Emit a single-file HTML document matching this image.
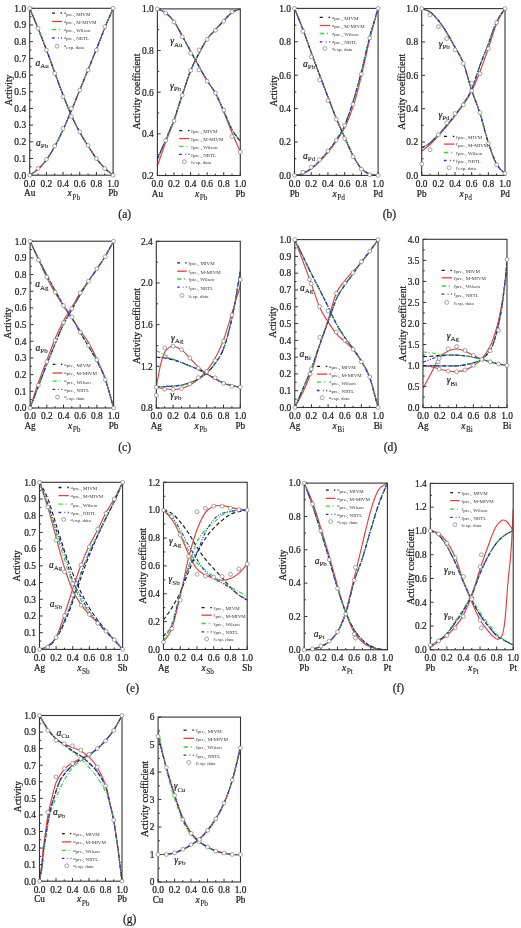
<!DOCTYPE html>
<html><head><meta charset="utf-8"><title>Activity plots</title>
<style>html,body{margin:0;padding:0;background:#fff;}svg{display:block;will-change:transform;}.t{stroke:#1a1a1a;stroke-width:0.22px;}.t tspan+tspan{stroke-width:0.08px;}</style>
</head><body>
<svg width="521" height="928" viewBox="0 0 521 928" font-family='"Liberation Serif", serif' fill="#222222">
<rect width="521" height="928" fill="#fff"/>
<clipPath id="c140049246937280"><rect x="29.70" y="7.80" width="83.40" height="167.90"/></clipPath>
<g clip-path="url(#c140049246937280)" fill="none" stroke-width="1.15">
<path d="M29.70,8.30 C31.09,11.64 35.26,21.43 38.04,28.33 C40.82,35.23 43.60,42.32 46.38,49.69 C49.16,57.06 51.94,64.99 54.72,72.56 C57.50,80.12 60.28,87.94 63.06,95.09 C65.84,102.24 68.62,109.27 71.40,115.45 C74.18,121.63 76.96,127.05 79.74,132.14 C82.52,137.23 85.30,141.60 88.08,145.99 C90.86,150.39 93.64,154.81 96.42,158.51 C99.20,162.21 101.98,165.41 104.76,168.19 C107.54,170.97 111.71,174.03 113.10,175.20" stroke="#1a1a1a" stroke-dasharray="4,2.4"/>
<path d="M29.70,175.20 C31.09,174.20 35.26,171.75 38.04,169.19 C40.82,166.63 43.60,163.63 46.38,159.85 C49.16,156.06 51.94,151.50 54.72,146.49 C57.50,141.49 60.28,135.81 63.06,129.80 C65.84,123.79 68.62,117.06 71.40,110.44 C74.18,103.82 76.96,96.87 79.74,90.08 C82.52,83.29 85.30,76.53 88.08,69.72 C90.86,62.90 93.64,56.14 96.42,49.19 C99.20,42.24 101.98,34.81 104.76,27.99 C107.54,21.18 111.71,11.58 113.10,8.30" stroke="#1a1a1a" stroke-dasharray="4,2.4"/>
<path d="M29.70,8.30 C31.09,11.64 35.26,21.43 38.04,28.33 C40.82,35.23 43.60,42.32 46.38,49.69 C49.16,57.06 51.94,64.99 54.72,72.56 C57.50,80.12 60.28,87.94 63.06,95.09 C65.84,102.24 68.62,109.27 71.40,115.45 C74.18,121.63 76.96,127.05 79.74,132.14 C82.52,137.23 85.30,141.60 88.08,145.99 C90.86,150.39 93.64,154.81 96.42,158.51 C99.20,162.21 101.98,165.41 104.76,168.19 C107.54,170.97 111.71,174.03 113.10,175.20" stroke="#e83c3c"/>
<path d="M29.70,175.20 C31.09,174.20 35.26,171.75 38.04,169.19 C40.82,166.63 43.60,163.63 46.38,159.85 C49.16,156.06 51.94,151.50 54.72,146.49 C57.50,141.49 60.28,135.81 63.06,129.80 C65.84,123.79 68.62,117.06 71.40,110.44 C74.18,103.82 76.96,96.87 79.74,90.08 C82.52,83.29 85.30,76.53 88.08,69.72 C90.86,62.90 93.64,56.14 96.42,49.19 C99.20,42.24 101.98,34.81 104.76,27.99 C107.54,21.18 111.71,11.58 113.10,8.30" stroke="#e83c3c"/>
<path d="M29.70,8.30 C31.09,11.64 35.26,21.43 38.04,28.33 C40.82,35.23 43.60,42.32 46.38,49.69 C49.16,57.06 51.94,64.99 54.72,72.56 C57.50,80.12 60.28,87.94 63.06,95.09 C65.84,102.24 68.62,109.27 71.40,115.45 C74.18,121.63 76.96,127.05 79.74,132.14 C82.52,137.23 85.30,141.60 88.08,145.99 C90.86,150.39 93.64,154.81 96.42,158.51 C99.20,162.21 101.98,165.41 104.76,168.19 C107.54,170.97 111.71,174.03 113.10,175.20" stroke="#2ed82e" stroke-dasharray="4.2,1.8,1,1.8"/>
<path d="M29.70,175.20 C31.09,174.20 35.26,171.75 38.04,169.19 C40.82,166.63 43.60,163.63 46.38,159.85 C49.16,156.06 51.94,151.50 54.72,146.49 C57.50,141.49 60.28,135.81 63.06,129.80 C65.84,123.79 68.62,117.06 71.40,110.44 C74.18,103.82 76.96,96.87 79.74,90.08 C82.52,83.29 85.30,76.53 88.08,69.72 C90.86,62.90 93.64,56.14 96.42,49.19 C99.20,42.24 101.98,34.81 104.76,27.99 C107.54,21.18 111.71,11.58 113.10,8.30" stroke="#2ed82e" stroke-dasharray="4.2,1.8,1,1.8"/>
<path d="M29.70,8.30 C31.09,11.64 35.26,21.43 38.04,28.33 C40.82,35.23 43.60,42.32 46.38,49.69 C49.16,57.06 51.94,64.99 54.72,72.56 C57.50,80.12 60.28,87.94 63.06,95.09 C65.84,102.24 68.62,109.27 71.40,115.45 C74.18,121.63 76.96,127.05 79.74,132.14 C82.52,137.23 85.30,141.60 88.08,145.99 C90.86,150.39 93.64,154.81 96.42,158.51 C99.20,162.21 101.98,165.41 104.76,168.19 C107.54,170.97 111.71,174.03 113.10,175.20" stroke="#2a2ae0" stroke-dasharray="3.4,1.5,1,1.5,1,1.5"/>
<path d="M29.70,175.20 C31.09,174.20 35.26,171.75 38.04,169.19 C40.82,166.63 43.60,163.63 46.38,159.85 C49.16,156.06 51.94,151.50 54.72,146.49 C57.50,141.49 60.28,135.81 63.06,129.80 C65.84,123.79 68.62,117.06 71.40,110.44 C74.18,103.82 76.96,96.87 79.74,90.08 C82.52,83.29 85.30,76.53 88.08,69.72 C90.86,62.90 93.64,56.14 96.42,49.19 C99.20,42.24 101.98,34.81 104.76,27.99 C107.54,21.18 111.71,11.58 113.10,8.30" stroke="#2a2ae0" stroke-dasharray="3.4,1.5,1,1.5,1,1.5"/>
</g>
<rect x="29.70" y="8.30" width="83.40" height="166.90" fill="none" stroke="#333333" stroke-width="1.1"/>
<path d="M29.70,175.20h3.3M29.70,158.51h3.3M29.70,141.82h3.3M29.70,125.13h3.3M29.70,108.44h3.3M29.70,91.75h3.3M29.70,75.06h3.3M29.70,58.37h3.3M29.70,41.68h3.3M29.70,24.99h3.3M29.70,8.30h3.3M29.70,166.85h1.8M29.70,150.16h1.8M29.70,133.47h1.8M29.70,116.78h1.8M29.70,100.09h1.8M29.70,83.40h1.8M29.70,66.71h1.8M29.70,50.02h1.8M29.70,33.33h1.8M29.70,16.65h1.8M29.70,175.20v-3.3M38.04,175.20v-1.8M46.38,175.20v-3.3M54.72,175.20v-1.8M63.06,175.20v-3.3M71.40,175.20v-1.8M79.74,175.20v-3.3M88.08,175.20v-1.8M96.42,175.20v-3.3M104.76,175.20v-1.8M113.10,175.20v-3.3" stroke="#333333" stroke-width="1" fill="none"/>
<circle cx="29.70" cy="8.30" r="1.95" fill="#fff" stroke="#6a6a6a" stroke-width="0.6"/>
<circle cx="38.04" cy="28.33" r="1.95" fill="#fff" stroke="#6a6a6a" stroke-width="0.6"/>
<circle cx="46.38" cy="50.03" r="1.95" fill="#fff" stroke="#6a6a6a" stroke-width="0.6"/>
<circle cx="54.72" cy="73.39" r="1.95" fill="#fff" stroke="#6a6a6a" stroke-width="0.6"/>
<circle cx="63.06" cy="96.76" r="1.95" fill="#fff" stroke="#6a6a6a" stroke-width="0.6"/>
<circle cx="71.40" cy="116.28" r="1.95" fill="#fff" stroke="#6a6a6a" stroke-width="0.6"/>
<circle cx="79.74" cy="131.81" r="1.95" fill="#fff" stroke="#6a6a6a" stroke-width="0.6"/>
<circle cx="88.08" cy="145.49" r="1.95" fill="#fff" stroke="#6a6a6a" stroke-width="0.6"/>
<circle cx="96.42" cy="158.51" r="1.95" fill="#fff" stroke="#6a6a6a" stroke-width="0.6"/>
<circle cx="104.76" cy="168.52" r="1.95" fill="#fff" stroke="#6a6a6a" stroke-width="0.6"/>
<circle cx="113.10" cy="175.20" r="1.95" fill="#fff" stroke="#6a6a6a" stroke-width="0.6"/>
<circle cx="29.70" cy="175.20" r="1.95" fill="#fff" stroke="#6a6a6a" stroke-width="0.6"/>
<circle cx="38.04" cy="168.52" r="1.95" fill="#fff" stroke="#6a6a6a" stroke-width="0.6"/>
<circle cx="46.38" cy="159.34" r="1.95" fill="#fff" stroke="#6a6a6a" stroke-width="0.6"/>
<circle cx="54.72" cy="145.99" r="1.95" fill="#fff" stroke="#6a6a6a" stroke-width="0.6"/>
<circle cx="63.06" cy="128.47" r="1.95" fill="#fff" stroke="#6a6a6a" stroke-width="0.6"/>
<circle cx="71.40" cy="108.44" r="1.95" fill="#fff" stroke="#6a6a6a" stroke-width="0.6"/>
<circle cx="79.74" cy="90.08" r="1.95" fill="#fff" stroke="#6a6a6a" stroke-width="0.6"/>
<circle cx="88.08" cy="70.05" r="1.95" fill="#fff" stroke="#6a6a6a" stroke-width="0.6"/>
<circle cx="96.42" cy="50.03" r="1.95" fill="#fff" stroke="#6a6a6a" stroke-width="0.6"/>
<circle cx="104.76" cy="26.66" r="1.95" fill="#fff" stroke="#6a6a6a" stroke-width="0.6"/>
<circle cx="113.10" cy="8.30" r="1.95" fill="#fff" stroke="#6a6a6a" stroke-width="0.6"/>
<text class="t" transform="translate(26.10,178.50) scale(1,1.1)" text-anchor="end" font-size="9.4">0.0</text>
<text class="t" transform="translate(26.10,161.81) scale(1,1.1)" text-anchor="end" font-size="9.4">0.1</text>
<text class="t" transform="translate(26.10,145.12) scale(1,1.1)" text-anchor="end" font-size="9.4">0.2</text>
<text class="t" transform="translate(26.10,128.43) scale(1,1.1)" text-anchor="end" font-size="9.4">0.3</text>
<text class="t" transform="translate(26.10,111.74) scale(1,1.1)" text-anchor="end" font-size="9.4">0.4</text>
<text class="t" transform="translate(26.10,95.05) scale(1,1.1)" text-anchor="end" font-size="9.4">0.5</text>
<text class="t" transform="translate(26.10,78.36) scale(1,1.1)" text-anchor="end" font-size="9.4">0.6</text>
<text class="t" transform="translate(26.10,61.67) scale(1,1.1)" text-anchor="end" font-size="9.4">0.7</text>
<text class="t" transform="translate(26.10,44.98) scale(1,1.1)" text-anchor="end" font-size="9.4">0.8</text>
<text class="t" transform="translate(26.10,28.29) scale(1,1.1)" text-anchor="end" font-size="9.4">0.9</text>
<text class="t" transform="translate(26.10,11.60) scale(1,1.1)" text-anchor="end" font-size="9.4">1.0</text>
<text class="t" transform="translate(29.70,186.60) scale(1,1.1)" text-anchor="middle" font-size="9.4">0.0</text>
<text class="t" transform="translate(46.38,186.60) scale(1,1.1)" text-anchor="middle" font-size="9.4">0.2</text>
<text class="t" transform="translate(63.06,186.60) scale(1,1.1)" text-anchor="middle" font-size="9.4">0.4</text>
<text class="t" transform="translate(79.74,186.60) scale(1,1.1)" text-anchor="middle" font-size="9.4">0.6</text>
<text class="t" transform="translate(96.42,186.60) scale(1,1.1)" text-anchor="middle" font-size="9.4">0.8</text>
<text class="t" transform="translate(113.10,186.60) scale(1,1.1)" text-anchor="middle" font-size="9.4">1.0</text>
<text class="t" transform="translate(29.70,196.30) scale(1,1.1)" text-anchor="middle" font-size="9.2">Au</text>
<text class="t" transform="translate(113.10,196.30) scale(1,1.1)" text-anchor="middle" font-size="9.2">Pb</text>
<text class="t" transform="translate(67.60,196.40) scale(1,1.1)" font-size="9.5"><tspan font-style="italic">x</tspan><tspan font-size="7.4" dx="0.5" dy="2.9">Pb</tspan></text>
<text class="t" transform="translate(12.00,90.20) rotate(-90)" text-anchor="middle" font-size="9.5">Activity</text>
<text class="t" x="35.50" y="65.60" font-size="9.5"><tspan font-style="italic">a</tspan><tspan font-size="7" dy="2.4">Au</tspan></text>
<text class="t" x="36.00" y="145.90" font-size="9.5"><tspan font-style="italic">a</tspan><tspan font-size="7" dy="2.4">Pb</tspan></text>
<path d="M52.10,13.20H55.07M60.52,13.20H62.00" stroke="#1a1a1a" stroke-width="1.3"/>
<text x="63.80" y="14.40" font-size="4.6" fill="#3a3a3a"><tspan font-style="italic">a</tspan><tspan font-size="5.0" dy="1.2">pre., MIVM</tspan></text>
<path d="M52.10,21.50H62.00" stroke="#e83c3c" stroke-width="1.3"/>
<text x="63.80" y="22.70" font-size="4.6" fill="#3a3a3a"><tspan font-style="italic">a</tspan><tspan font-size="5.0" dy="1.2">pre., M-MIVM</tspan></text>
<path d="M52.10,29.70H56.26M59.03,29.70H60.02" stroke="#2ed82e" stroke-width="1.3"/>
<text x="63.80" y="30.90" font-size="4.6" fill="#3a3a3a"><tspan font-style="italic">a</tspan><tspan font-size="5.0" dy="1.2">pre., Wilson</tspan></text>
<path d="M52.10,38.00H54.67M57.84,38.00H58.63M61.01,38.00H62.00" stroke="#2a2ae0" stroke-width="1.3"/>
<text x="63.80" y="39.20" font-size="4.6" fill="#3a3a3a"><tspan font-style="italic">a</tspan><tspan font-size="5.0" dy="1.2">pre., NRTL</tspan></text>
<circle cx="57.05" cy="46.20" r="1.95" fill="#fff" stroke="#6a6a6a" stroke-width="0.6"/>
<text x="63.80" y="47.40" font-size="4.6" fill="#3a3a3a"><tspan font-style="italic">a</tspan><tspan font-size="5.0" dy="1.2">exp. data</tspan></text>
<clipPath id="c140049246937328"><rect x="157.40" y="8.40" width="82.90" height="167.60"/></clipPath>
<g clip-path="url(#c140049246937328)" fill="none" stroke-width="1.15">
<path d="M157.40,8.90 C158.78,9.59 162.93,10.98 165.69,13.06 C168.45,15.15 171.22,17.58 173.98,21.40 C176.74,25.21 179.51,31.01 182.27,35.97 C185.03,40.94 187.80,46.14 190.56,51.17 C193.32,56.21 196.09,61.24 198.85,66.17 C201.61,71.10 204.38,76.23 207.14,80.75 C209.90,85.26 212.67,88.21 215.43,93.24 C218.19,98.27 220.96,104.87 223.72,110.94 C226.48,117.02 229.25,124.65 232.01,129.69 C234.77,134.72 238.92,139.23 240.30,141.14" stroke="#1a1a1a" stroke-dasharray="4,2.4"/>
<path d="M157.40,159.05 C158.78,155.82 162.93,146.24 165.69,139.68 C168.45,133.12 171.22,127.19 173.98,119.69 C176.74,112.19 179.51,102.86 182.27,94.70 C185.03,86.54 187.80,77.59 190.56,70.75 C193.32,63.91 196.09,58.95 198.85,53.67 C201.61,48.40 204.38,43.09 207.14,39.10 C209.90,35.10 212.67,32.78 215.43,29.73 C218.19,26.67 220.96,23.65 223.72,20.77 C226.48,17.89 229.25,14.42 232.01,12.44 C234.77,10.46 238.92,9.49 240.30,8.90" stroke="#1a1a1a" stroke-dasharray="4,2.4"/>
<path d="M157.40,8.90 C158.78,9.59 162.93,10.98 165.69,13.06 C168.45,15.15 171.22,17.58 173.98,21.40 C176.74,25.21 179.51,31.01 182.27,35.97 C185.03,40.94 187.80,46.14 190.56,51.17 C193.32,56.21 196.09,61.24 198.85,66.17 C201.61,71.10 204.38,76.23 207.14,80.75 C209.90,85.26 212.67,88.04 215.43,93.24 C218.19,98.45 220.96,105.39 223.72,111.98 C226.48,118.58 229.25,126.14 232.01,132.81 C234.77,139.47 238.92,148.77 240.30,151.97" stroke="#e83c3c"/>
<path d="M157.40,165.92 C158.78,161.96 162.93,149.68 165.69,142.18 C168.45,134.68 171.22,128.71 173.98,120.94 C176.74,113.16 179.51,103.79 182.27,95.53 C185.03,87.27 187.80,78.35 190.56,71.38 C193.32,64.40 196.09,59.05 198.85,53.67 C201.61,48.29 204.38,43.09 207.14,39.10 C209.90,35.10 212.67,32.78 215.43,29.73 C218.19,26.67 220.96,23.65 223.72,20.77 C226.48,17.89 229.25,14.42 232.01,12.44 C234.77,10.46 238.92,9.49 240.30,8.90" stroke="#e83c3c"/>
<path d="M157.40,8.90 C158.78,9.59 162.93,10.98 165.69,13.06 C168.45,15.15 171.22,17.58 173.98,21.40 C176.74,25.21 179.51,31.01 182.27,35.97 C185.03,40.94 187.80,46.14 190.56,51.17 C193.32,56.21 196.09,61.24 198.85,66.17 C201.61,71.10 204.38,76.23 207.14,80.75 C209.90,85.26 212.67,88.21 215.43,93.24 C218.19,98.27 220.96,104.87 223.72,110.94 C226.48,117.02 229.25,124.65 232.01,129.69 C234.77,134.72 238.92,139.23 240.30,141.14" stroke="#2ed82e" stroke-dasharray="4.2,1.8,1,1.8"/>
<path d="M157.40,159.05 C158.78,155.82 162.93,146.24 165.69,139.68 C168.45,133.12 171.22,127.19 173.98,119.69 C176.74,112.19 179.51,102.86 182.27,94.70 C185.03,86.54 187.80,77.59 190.56,70.75 C193.32,63.91 196.09,58.95 198.85,53.67 C201.61,48.40 204.38,43.09 207.14,39.10 C209.90,35.10 212.67,32.78 215.43,29.73 C218.19,26.67 220.96,23.65 223.72,20.77 C226.48,17.89 229.25,14.42 232.01,12.44 C234.77,10.46 238.92,9.49 240.30,8.90" stroke="#2ed82e" stroke-dasharray="4.2,1.8,1,1.8"/>
<path d="M157.40,8.90 C158.78,9.59 162.93,10.98 165.69,13.06 C168.45,15.15 171.22,17.58 173.98,21.40 C176.74,25.21 179.51,31.01 182.27,35.97 C185.03,40.94 187.80,46.14 190.56,51.17 C193.32,56.21 196.09,61.24 198.85,66.17 C201.61,71.10 204.38,76.23 207.14,80.75 C209.90,85.26 212.67,88.21 215.43,93.24 C218.19,98.27 220.96,104.87 223.72,110.94 C226.48,117.02 229.25,124.65 232.01,129.69 C234.77,134.72 238.92,139.23 240.30,141.14" stroke="#2a2ae0" stroke-dasharray="3.4,1.5,1,1.5,1,1.5"/>
<path d="M157.40,159.05 C158.78,155.82 162.93,146.24 165.69,139.68 C168.45,133.12 171.22,127.19 173.98,119.69 C176.74,112.19 179.51,102.86 182.27,94.70 C185.03,86.54 187.80,77.59 190.56,70.75 C193.32,63.91 196.09,58.95 198.85,53.67 C201.61,48.40 204.38,43.09 207.14,39.10 C209.90,35.10 212.67,32.78 215.43,29.73 C218.19,26.67 220.96,23.65 223.72,20.77 C226.48,17.89 229.25,14.42 232.01,12.44 C234.77,10.46 238.92,9.49 240.30,8.90" stroke="#2a2ae0" stroke-dasharray="3.4,1.5,1,1.5,1,1.5"/>
</g>
<rect x="157.40" y="8.90" width="82.90" height="166.60" fill="none" stroke="#333333" stroke-width="1.1"/>
<path d="M157.40,175.50h3.3M157.40,133.85h3.3M157.40,92.20h3.3M157.40,50.55h3.3M157.40,8.90h3.3M157.40,154.68h1.8M157.40,113.03h1.8M157.40,71.38h1.8M157.40,29.72h1.8M157.40,175.50v-3.3M165.69,175.50v-1.8M173.98,175.50v-3.3M182.27,175.50v-1.8M190.56,175.50v-3.3M198.85,175.50v-1.8M207.14,175.50v-3.3M215.43,175.50v-1.8M223.72,175.50v-3.3M232.01,175.50v-1.8M240.30,175.50v-3.3" stroke="#333333" stroke-width="1" fill="none"/>
<circle cx="157.40" cy="8.90" r="1.95" fill="#fff" stroke="#6a6a6a" stroke-width="0.6"/>
<circle cx="165.69" cy="13.06" r="1.95" fill="#fff" stroke="#6a6a6a" stroke-width="0.6"/>
<circle cx="173.98" cy="22.02" r="1.95" fill="#fff" stroke="#6a6a6a" stroke-width="0.6"/>
<circle cx="182.27" cy="36.81" r="1.95" fill="#fff" stroke="#6a6a6a" stroke-width="0.6"/>
<circle cx="190.56" cy="53.26" r="1.95" fill="#fff" stroke="#6a6a6a" stroke-width="0.6"/>
<circle cx="198.85" cy="69.92" r="1.95" fill="#fff" stroke="#6a6a6a" stroke-width="0.6"/>
<circle cx="207.14" cy="81.16" r="1.95" fill="#fff" stroke="#6a6a6a" stroke-width="0.6"/>
<circle cx="215.43" cy="93.03" r="1.95" fill="#fff" stroke="#6a6a6a" stroke-width="0.6"/>
<circle cx="223.72" cy="110.11" r="1.95" fill="#fff" stroke="#6a6a6a" stroke-width="0.6"/>
<circle cx="232.01" cy="136.56" r="1.95" fill="#fff" stroke="#6a6a6a" stroke-width="0.6"/>
<circle cx="240.30" cy="151.97" r="1.95" fill="#fff" stroke="#6a6a6a" stroke-width="0.6"/>
<circle cx="165.69" cy="140.51" r="1.95" fill="#fff" stroke="#6a6a6a" stroke-width="0.6"/>
<circle cx="173.98" cy="120.94" r="1.95" fill="#fff" stroke="#6a6a6a" stroke-width="0.6"/>
<circle cx="182.27" cy="95.32" r="1.95" fill="#fff" stroke="#6a6a6a" stroke-width="0.6"/>
<circle cx="190.56" cy="70.54" r="1.95" fill="#fff" stroke="#6a6a6a" stroke-width="0.6"/>
<circle cx="198.85" cy="49.93" r="1.95" fill="#fff" stroke="#6a6a6a" stroke-width="0.6"/>
<circle cx="207.14" cy="39.30" r="1.95" fill="#fff" stroke="#6a6a6a" stroke-width="0.6"/>
<circle cx="215.43" cy="30.35" r="1.95" fill="#fff" stroke="#6a6a6a" stroke-width="0.6"/>
<circle cx="223.72" cy="21.19" r="1.95" fill="#fff" stroke="#6a6a6a" stroke-width="0.6"/>
<circle cx="232.01" cy="11.61" r="1.95" fill="#fff" stroke="#6a6a6a" stroke-width="0.6"/>
<text class="t" transform="translate(153.80,178.80) scale(1,1.1)" text-anchor="end" font-size="9.4">0.2</text>
<text class="t" transform="translate(153.80,137.15) scale(1,1.1)" text-anchor="end" font-size="9.4">0.4</text>
<text class="t" transform="translate(153.80,95.50) scale(1,1.1)" text-anchor="end" font-size="9.4">0.6</text>
<text class="t" transform="translate(153.80,53.85) scale(1,1.1)" text-anchor="end" font-size="9.4">0.8</text>
<text class="t" transform="translate(153.80,12.20) scale(1,1.1)" text-anchor="end" font-size="9.4">1.0</text>
<text class="t" transform="translate(157.40,186.90) scale(1,1.1)" text-anchor="middle" font-size="9.4">0.0</text>
<text class="t" transform="translate(173.98,186.90) scale(1,1.1)" text-anchor="middle" font-size="9.4">0.2</text>
<text class="t" transform="translate(190.56,186.90) scale(1,1.1)" text-anchor="middle" font-size="9.4">0.4</text>
<text class="t" transform="translate(207.14,186.90) scale(1,1.1)" text-anchor="middle" font-size="9.4">0.6</text>
<text class="t" transform="translate(223.72,186.90) scale(1,1.1)" text-anchor="middle" font-size="9.4">0.8</text>
<text class="t" transform="translate(240.30,186.90) scale(1,1.1)" text-anchor="middle" font-size="9.4">1.0</text>
<text class="t" transform="translate(157.40,196.60) scale(1,1.1)" text-anchor="middle" font-size="9.2">Au</text>
<text class="t" transform="translate(240.30,196.60) scale(1,1.1)" text-anchor="middle" font-size="9.2">Pb</text>
<text class="t" transform="translate(195.05,196.70) scale(1,1.1)" font-size="9.5"><tspan font-style="italic">x</tspan><tspan font-size="7.4" dx="0.5" dy="2.9">Pb</tspan></text>
<text class="t" transform="translate(140.20,91.55) rotate(-90)" text-anchor="middle" font-size="9.75">Activity coefficient</text>
<text class="t" x="170.20" y="44.20" font-size="9.5"><tspan font-style="italic">γ</tspan><tspan font-size="7" dy="2.4">Au</tspan></text>
<text class="t" x="169.90" y="88.70" font-size="9.5"><tspan font-style="italic">γ</tspan><tspan font-size="7" dy="2.4">Pb</tspan></text>
<path d="M179.20,130.60H182.29M187.95,130.60H189.50" stroke="#1a1a1a" stroke-width="1.3"/>
<text x="191.30" y="131.80" font-size="4.6" fill="#3a3a3a"><tspan font-style="italic">γ</tspan><tspan font-size="5.0" dy="1.2">pre., MIVM</tspan></text>
<path d="M179.20,138.60H189.50" stroke="#e83c3c" stroke-width="1.3"/>
<text x="191.30" y="139.80" font-size="4.6" fill="#3a3a3a"><tspan font-style="italic">γ</tspan><tspan font-size="5.0" dy="1.2">pre., M-MIVM</tspan></text>
<path d="M179.20,146.30H183.53M186.41,146.30H187.44" stroke="#2ed82e" stroke-width="1.3"/>
<text x="191.30" y="147.50" font-size="4.6" fill="#3a3a3a"><tspan font-style="italic">γ</tspan><tspan font-size="5.0" dy="1.2">pre., Wilson</tspan></text>
<path d="M179.20,154.30H181.88M185.17,154.30H186.00M188.47,154.30H189.50" stroke="#2a2ae0" stroke-width="1.3"/>
<text x="191.30" y="155.50" font-size="4.6" fill="#3a3a3a"><tspan font-style="italic">γ</tspan><tspan font-size="5.0" dy="1.2">pre., NRTL</tspan></text>
<circle cx="184.35" cy="161.70" r="1.95" fill="#fff" stroke="#6a6a6a" stroke-width="0.6"/>
<text x="191.30" y="162.90" font-size="4.6" fill="#3a3a3a"><tspan font-style="italic">γ</tspan><tspan font-size="5.0" dy="1.2">exp. data</tspan></text>
<clipPath id="c140049246937472"><rect x="294.50" y="7.90" width="83.60" height="168.00"/></clipPath>
<g clip-path="url(#c140049246937472)" fill="none" stroke-width="1.15">
<path d="M294.50,8.40 C295.89,11.88 300.07,21.93 302.86,29.28 C305.65,36.62 308.43,44.86 311.22,52.49 C314.01,60.11 316.79,67.63 319.58,75.03 C322.37,82.44 325.15,89.67 327.94,96.91 C330.73,104.15 333.51,111.69 336.30,118.45 C339.09,125.22 341.87,131.31 344.66,137.49 C347.45,143.67 350.23,150.32 353.02,155.53 C355.81,160.73 358.59,165.63 361.38,168.72 C364.17,171.81 366.95,172.95 369.74,174.06 C372.53,175.18 376.71,175.18 378.10,175.40" stroke="#1a1a1a" stroke-dasharray="4,2.4"/>
<path d="M294.50,175.40 C295.89,175.07 300.07,174.57 302.86,173.40 C305.65,172.23 308.43,170.50 311.22,168.39 C314.01,166.27 316.79,163.57 319.58,160.70 C322.37,157.84 325.15,154.64 327.94,151.19 C330.73,147.73 333.51,144.31 336.30,140.00 C339.09,135.68 341.87,131.65 344.66,125.30 C347.45,118.95 350.23,110.83 353.02,101.92 C355.81,93.01 358.59,82.72 361.38,71.86 C364.17,61.01 366.95,47.37 369.74,36.79 C372.53,26.21 376.71,13.13 378.10,8.40" stroke="#1a1a1a" stroke-dasharray="4,2.4"/>
<path d="M294.50,8.40 C295.89,11.88 300.07,21.93 302.86,29.28 C305.65,36.62 308.43,44.86 311.22,52.49 C314.01,60.11 316.79,67.63 319.58,75.03 C322.37,82.44 325.15,89.67 327.94,96.91 C330.73,104.15 333.51,111.69 336.30,118.45 C339.09,125.22 341.87,131.31 344.66,137.49 C347.45,143.67 350.23,150.32 353.02,155.53 C355.81,160.73 358.59,165.63 361.38,168.72 C364.17,171.81 366.95,172.95 369.74,174.06 C372.53,175.18 376.71,175.18 378.10,175.40" stroke="#e83c3c"/>
<path d="M294.50,175.40 C295.89,175.12 300.07,174.79 302.86,173.73 C305.65,172.67 308.43,171.06 311.22,169.05 C314.01,167.05 316.79,164.49 319.58,161.71 C322.37,158.92 325.15,155.78 327.94,152.35 C330.73,148.93 333.51,145.26 336.30,141.17 C339.09,137.07 341.87,133.51 344.66,127.81 C347.45,122.10 350.23,115.56 353.02,106.93 C355.81,98.30 358.59,87.31 361.38,76.04 C364.17,64.76 366.95,50.57 369.74,39.30 C372.53,28.02 376.71,13.55 378.10,8.40" stroke="#e83c3c"/>
<path d="M294.50,8.40 C295.89,11.88 300.07,21.93 302.86,29.28 C305.65,36.62 308.43,44.86 311.22,52.49 C314.01,60.11 316.79,67.63 319.58,75.03 C322.37,82.44 325.15,89.67 327.94,96.91 C330.73,104.15 333.51,111.69 336.30,118.45 C339.09,125.22 341.87,131.31 344.66,137.49 C347.45,143.67 350.23,150.32 353.02,155.53 C355.81,160.73 358.59,165.63 361.38,168.72 C364.17,171.81 366.95,172.95 369.74,174.06 C372.53,175.18 376.71,175.18 378.10,175.40" stroke="#2ed82e" stroke-dasharray="4.2,1.8,1,1.8"/>
<path d="M294.50,175.40 C295.89,175.07 300.07,174.57 302.86,173.40 C305.65,172.23 308.43,170.50 311.22,168.39 C314.01,166.27 316.79,163.57 319.58,160.70 C322.37,157.84 325.15,154.64 327.94,151.19 C330.73,147.73 333.51,144.31 336.30,140.00 C339.09,135.68 341.87,131.65 344.66,125.30 C347.45,118.95 350.23,110.83 353.02,101.92 C355.81,93.01 358.59,82.72 361.38,71.86 C364.17,61.01 366.95,47.37 369.74,36.79 C372.53,26.21 376.71,13.13 378.10,8.40" stroke="#2ed82e" stroke-dasharray="4.2,1.8,1,1.8"/>
<path d="M294.50,8.40 C295.89,11.88 300.07,21.93 302.86,29.28 C305.65,36.62 308.43,44.86 311.22,52.49 C314.01,60.11 316.79,67.63 319.58,75.03 C322.37,82.44 325.15,89.67 327.94,96.91 C330.73,104.15 333.51,111.69 336.30,118.45 C339.09,125.22 341.87,131.31 344.66,137.49 C347.45,143.67 350.23,150.32 353.02,155.53 C355.81,160.73 358.59,165.63 361.38,168.72 C364.17,171.81 366.95,172.95 369.74,174.06 C372.53,175.18 376.71,175.18 378.10,175.40" stroke="#2a2ae0" stroke-dasharray="3.4,1.5,1,1.5,1,1.5"/>
<path d="M294.50,175.40 C295.89,175.07 300.07,174.57 302.86,173.40 C305.65,172.23 308.43,170.50 311.22,168.39 C314.01,166.27 316.79,163.57 319.58,160.70 C322.37,157.84 325.15,154.64 327.94,151.19 C330.73,147.73 333.51,144.31 336.30,140.00 C339.09,135.68 341.87,131.65 344.66,125.30 C347.45,118.95 350.23,110.83 353.02,101.92 C355.81,93.01 358.59,82.72 361.38,71.86 C364.17,61.01 366.95,47.37 369.74,36.79 C372.53,26.21 376.71,13.13 378.10,8.40" stroke="#2a2ae0" stroke-dasharray="3.4,1.5,1,1.5,1,1.5"/>
</g>
<rect x="294.50" y="8.40" width="83.60" height="167.00" fill="none" stroke="#333333" stroke-width="1.1"/>
<path d="M294.50,175.40h3.3M294.50,142.00h3.3M294.50,108.60h3.3M294.50,75.20h3.3M294.50,41.80h3.3M294.50,8.40h3.3M294.50,158.70h1.8M294.50,125.30h1.8M294.50,91.90h1.8M294.50,58.50h1.8M294.50,25.10h1.8M294.50,175.40v-3.3M302.86,175.40v-1.8M311.22,175.40v-3.3M319.58,175.40v-1.8M327.94,175.40v-3.3M336.30,175.40v-1.8M344.66,175.40v-3.3M353.02,175.40v-1.8M361.38,175.40v-3.3M369.74,175.40v-1.8M378.10,175.40v-3.3" stroke="#333333" stroke-width="1" fill="none"/>
<circle cx="294.50" cy="8.40" r="1.95" fill="#fff" stroke="#6a6a6a" stroke-width="0.6"/>
<circle cx="302.86" cy="31.28" r="1.95" fill="#fff" stroke="#6a6a6a" stroke-width="0.6"/>
<circle cx="311.22" cy="56.83" r="1.95" fill="#fff" stroke="#6a6a6a" stroke-width="0.6"/>
<circle cx="319.58" cy="79.88" r="1.95" fill="#fff" stroke="#6a6a6a" stroke-width="0.6"/>
<circle cx="327.94" cy="100.58" r="1.95" fill="#fff" stroke="#6a6a6a" stroke-width="0.6"/>
<circle cx="336.30" cy="119.29" r="1.95" fill="#fff" stroke="#6a6a6a" stroke-width="0.6"/>
<circle cx="344.66" cy="138.49" r="1.95" fill="#fff" stroke="#6a6a6a" stroke-width="0.6"/>
<circle cx="353.02" cy="156.70" r="1.95" fill="#fff" stroke="#6a6a6a" stroke-width="0.6"/>
<circle cx="361.38" cy="169.22" r="1.95" fill="#fff" stroke="#6a6a6a" stroke-width="0.6"/>
<circle cx="369.74" cy="174.73" r="1.95" fill="#fff" stroke="#6a6a6a" stroke-width="0.6"/>
<circle cx="378.10" cy="175.40" r="1.95" fill="#fff" stroke="#6a6a6a" stroke-width="0.6"/>
<circle cx="294.50" cy="175.40" r="1.95" fill="#fff" stroke="#6a6a6a" stroke-width="0.6"/>
<circle cx="302.86" cy="172.23" r="1.95" fill="#fff" stroke="#6a6a6a" stroke-width="0.6"/>
<circle cx="311.22" cy="167.22" r="1.95" fill="#fff" stroke="#6a6a6a" stroke-width="0.6"/>
<circle cx="319.58" cy="159.70" r="1.95" fill="#fff" stroke="#6a6a6a" stroke-width="0.6"/>
<circle cx="327.94" cy="151.02" r="1.95" fill="#fff" stroke="#6a6a6a" stroke-width="0.6"/>
<circle cx="336.30" cy="140.16" r="1.95" fill="#fff" stroke="#6a6a6a" stroke-width="0.6"/>
<circle cx="344.66" cy="125.47" r="1.95" fill="#fff" stroke="#6a6a6a" stroke-width="0.6"/>
<circle cx="353.02" cy="104.26" r="1.95" fill="#fff" stroke="#6a6a6a" stroke-width="0.6"/>
<circle cx="361.38" cy="74.03" r="1.95" fill="#fff" stroke="#6a6a6a" stroke-width="0.6"/>
<circle cx="369.74" cy="37.96" r="1.95" fill="#fff" stroke="#6a6a6a" stroke-width="0.6"/>
<circle cx="378.10" cy="8.40" r="1.95" fill="#fff" stroke="#6a6a6a" stroke-width="0.6"/>
<text class="t" transform="translate(290.90,178.70) scale(1,1.1)" text-anchor="end" font-size="9.4">0.0</text>
<text class="t" transform="translate(290.90,145.30) scale(1,1.1)" text-anchor="end" font-size="9.4">0.2</text>
<text class="t" transform="translate(290.90,111.90) scale(1,1.1)" text-anchor="end" font-size="9.4">0.4</text>
<text class="t" transform="translate(290.90,78.50) scale(1,1.1)" text-anchor="end" font-size="9.4">0.6</text>
<text class="t" transform="translate(290.90,45.10) scale(1,1.1)" text-anchor="end" font-size="9.4">0.8</text>
<text class="t" transform="translate(290.90,11.70) scale(1,1.1)" text-anchor="end" font-size="9.4">1.0</text>
<text class="t" transform="translate(294.50,186.80) scale(1,1.1)" text-anchor="middle" font-size="9.4">0.0</text>
<text class="t" transform="translate(311.22,186.80) scale(1,1.1)" text-anchor="middle" font-size="9.4">0.2</text>
<text class="t" transform="translate(327.94,186.80) scale(1,1.1)" text-anchor="middle" font-size="9.4">0.4</text>
<text class="t" transform="translate(344.66,186.80) scale(1,1.1)" text-anchor="middle" font-size="9.4">0.6</text>
<text class="t" transform="translate(361.38,186.80) scale(1,1.1)" text-anchor="middle" font-size="9.4">0.8</text>
<text class="t" transform="translate(378.10,186.80) scale(1,1.1)" text-anchor="middle" font-size="9.4">1.0</text>
<text class="t" transform="translate(294.50,196.50) scale(1,1.1)" text-anchor="middle" font-size="9.2">Pb</text>
<text class="t" transform="translate(378.10,196.50) scale(1,1.1)" text-anchor="middle" font-size="9.2">Pd</text>
<text class="t" transform="translate(332.50,196.60) scale(1,1.1)" font-size="9.5"><tspan font-style="italic">x</tspan><tspan font-size="7.4" dx="0.5" dy="2.9">Pd</tspan></text>
<text class="t" transform="translate(277.40,90.95) rotate(-90)" text-anchor="middle" font-size="9.5">Activity</text>
<text class="t" x="303.00" y="66.80" font-size="9.5"><tspan font-style="italic">a</tspan><tspan font-size="7" dy="2.4">Pb</tspan></text>
<text class="t" x="303.00" y="158.80" font-size="9.5"><tspan font-style="italic">a</tspan><tspan font-size="7" dy="2.4">Pd</tspan></text>
<path d="M319.70,17.40H322.82M328.54,17.40H330.10" stroke="#1a1a1a" stroke-width="1.3"/>
<text x="331.90" y="18.60" font-size="4.6" fill="#3a3a3a"><tspan font-style="italic">a</tspan><tspan font-size="5.0" dy="1.2">pre., MIVM</tspan></text>
<path d="M319.70,25.50H330.10" stroke="#e83c3c" stroke-width="1.3"/>
<text x="331.90" y="26.70" font-size="4.6" fill="#3a3a3a"><tspan font-style="italic">a</tspan><tspan font-size="5.0" dy="1.2">pre., M-MIVM</tspan></text>
<path d="M319.70,33.50H324.07M326.98,33.50H328.02" stroke="#2ed82e" stroke-width="1.3"/>
<text x="331.90" y="34.70" font-size="4.6" fill="#3a3a3a"><tspan font-style="italic">a</tspan><tspan font-size="5.0" dy="1.2">pre., Wilson</tspan></text>
<path d="M319.70,41.80H322.40M325.73,41.80H326.56M329.06,41.80H330.10" stroke="#2a2ae0" stroke-width="1.3"/>
<text x="331.90" y="43.00" font-size="4.6" fill="#3a3a3a"><tspan font-style="italic">a</tspan><tspan font-size="5.0" dy="1.2">pre., NRTL</tspan></text>
<circle cx="324.90" cy="48.50" r="1.95" fill="#fff" stroke="#6a6a6a" stroke-width="0.6"/>
<text x="331.90" y="49.70" font-size="4.6" fill="#3a3a3a"><tspan font-style="italic">a</tspan><tspan font-size="5.0" dy="1.2">exp. data</tspan></text>
<clipPath id="c140049246937568"><rect x="421.70" y="8.10" width="83.30" height="167.80"/></clipPath>
<g clip-path="url(#c140049246937568)" fill="none" stroke-width="1.15">
<path d="M421.70,8.60 C423.09,9.16 427.25,9.96 430.03,11.94 C432.81,13.91 435.58,17.00 438.36,20.44 C441.14,23.89 443.91,28.14 446.69,32.62 C449.47,37.10 452.24,42.24 455.02,47.30 C457.80,52.36 460.57,55.80 463.35,62.98 C466.13,70.15 468.90,81.94 471.68,90.33 C474.46,98.73 477.23,104.62 480.01,113.35 C482.79,122.08 485.56,134.23 488.34,142.71 C491.12,151.19 493.89,159.05 496.67,164.22 C499.45,169.40 503.61,172.15 505.00,173.73" stroke="#1a1a1a" stroke-dasharray="4,2.4"/>
<path d="M421.70,147.88 C423.09,147.04 427.25,145.10 430.03,142.87 C432.81,140.65 435.58,137.45 438.36,134.53 C441.14,131.62 443.91,128.61 446.69,125.36 C449.47,122.11 452.24,118.63 455.02,115.02 C457.80,111.40 460.57,107.93 463.35,103.68 C466.13,99.42 468.90,95.89 471.68,89.50 C474.46,83.10 477.23,72.90 480.01,65.31 C482.79,57.72 485.56,51.27 488.34,43.96 C491.12,36.65 493.89,27.34 496.67,21.44 C499.45,15.55 503.61,10.74 505.00,8.60" stroke="#1a1a1a" stroke-dasharray="4,2.4"/>
<path d="M421.70,8.60 C423.09,9.16 427.25,9.96 430.03,11.94 C432.81,13.91 435.58,17.00 438.36,20.44 C441.14,23.89 443.91,28.14 446.69,32.62 C449.47,37.10 452.24,42.24 455.02,47.30 C457.80,52.36 460.57,55.80 463.35,62.98 C466.13,70.15 468.90,81.94 471.68,90.33 C474.46,98.73 477.23,104.62 480.01,113.35 C482.79,122.08 485.56,134.23 488.34,142.71 C491.12,151.19 493.89,159.05 496.67,164.22 C499.45,169.40 503.61,172.15 505.00,173.73" stroke="#e83c3c"/>
<path d="M421.70,151.21 C423.09,150.10 427.25,147.10 430.03,144.54 C432.81,141.98 435.58,138.90 438.36,135.87 C441.14,132.84 443.91,129.70 446.69,126.36 C449.47,123.02 452.24,119.47 455.02,115.85 C457.80,112.24 460.57,108.79 463.35,104.68 C466.13,100.56 468.90,96.70 471.68,91.17 C474.46,85.63 477.23,78.66 480.01,71.48 C482.79,64.31 485.56,56.11 488.34,48.13 C491.12,40.15 493.89,30.20 496.67,23.61 C499.45,17.02 503.61,11.10 505.00,8.60" stroke="#e83c3c"/>
<path d="M421.70,8.60 C423.09,9.16 427.25,9.96 430.03,11.94 C432.81,13.91 435.58,17.00 438.36,20.44 C441.14,23.89 443.91,28.14 446.69,32.62 C449.47,37.10 452.24,42.24 455.02,47.30 C457.80,52.36 460.57,55.80 463.35,62.98 C466.13,70.15 468.90,81.94 471.68,90.33 C474.46,98.73 477.23,104.62 480.01,113.35 C482.79,122.08 485.56,134.23 488.34,142.71 C491.12,151.19 493.89,159.05 496.67,164.22 C499.45,169.40 503.61,172.15 505.00,173.73" stroke="#2ed82e" stroke-dasharray="4.2,1.8,1,1.8"/>
<path d="M421.70,147.88 C423.09,147.04 427.25,145.10 430.03,142.87 C432.81,140.65 435.58,137.45 438.36,134.53 C441.14,131.62 443.91,128.61 446.69,125.36 C449.47,122.11 452.24,118.63 455.02,115.02 C457.80,111.40 460.57,107.93 463.35,103.68 C466.13,99.42 468.90,95.89 471.68,89.50 C474.46,83.10 477.23,72.90 480.01,65.31 C482.79,57.72 485.56,51.27 488.34,43.96 C491.12,36.65 493.89,27.34 496.67,21.44 C499.45,15.55 503.61,10.74 505.00,8.60" stroke="#2ed82e" stroke-dasharray="4.2,1.8,1,1.8"/>
<path d="M421.70,8.60 C423.09,9.16 427.25,9.96 430.03,11.94 C432.81,13.91 435.58,17.00 438.36,20.44 C441.14,23.89 443.91,28.14 446.69,32.62 C449.47,37.10 452.24,42.24 455.02,47.30 C457.80,52.36 460.57,55.80 463.35,62.98 C466.13,70.15 468.90,81.94 471.68,90.33 C474.46,98.73 477.23,104.62 480.01,113.35 C482.79,122.08 485.56,134.23 488.34,142.71 C491.12,151.19 493.89,159.05 496.67,164.22 C499.45,169.40 503.61,172.15 505.00,173.73" stroke="#2a2ae0" stroke-dasharray="3.4,1.5,1,1.5,1,1.5"/>
<path d="M421.70,147.88 C423.09,147.04 427.25,145.10 430.03,142.87 C432.81,140.65 435.58,137.45 438.36,134.53 C441.14,131.62 443.91,128.61 446.69,125.36 C449.47,122.11 452.24,118.63 455.02,115.02 C457.80,111.40 460.57,107.93 463.35,103.68 C466.13,99.42 468.90,95.89 471.68,89.50 C474.46,83.10 477.23,72.90 480.01,65.31 C482.79,57.72 485.56,51.27 488.34,43.96 C491.12,36.65 493.89,27.34 496.67,21.44 C499.45,15.55 503.61,10.74 505.00,8.60" stroke="#2a2ae0" stroke-dasharray="3.4,1.5,1,1.5,1,1.5"/>
</g>
<rect x="421.70" y="8.60" width="83.30" height="166.80" fill="none" stroke="#333333" stroke-width="1.1"/>
<path d="M421.70,175.40h3.3M421.70,142.04h3.3M421.70,108.68h3.3M421.70,75.32h3.3M421.70,41.96h3.3M421.70,8.60h3.3M421.70,158.72h1.8M421.70,125.36h1.8M421.70,92.00h1.8M421.70,58.64h1.8M421.70,25.28h1.8M421.70,175.40v-3.3M430.03,175.40v-1.8M438.36,175.40v-3.3M446.69,175.40v-1.8M455.02,175.40v-3.3M463.35,175.40v-1.8M471.68,175.40v-3.3M480.01,175.40v-1.8M488.34,175.40v-3.3M496.67,175.40v-1.8M505.00,175.40v-3.3" stroke="#333333" stroke-width="1" fill="none"/>
<circle cx="421.70" cy="8.60" r="1.95" fill="#fff" stroke="#6a6a6a" stroke-width="0.6"/>
<circle cx="430.03" cy="14.94" r="1.95" fill="#fff" stroke="#6a6a6a" stroke-width="0.6"/>
<circle cx="438.36" cy="26.61" r="1.95" fill="#fff" stroke="#6a6a6a" stroke-width="0.6"/>
<circle cx="446.69" cy="38.62" r="1.95" fill="#fff" stroke="#6a6a6a" stroke-width="0.6"/>
<circle cx="455.02" cy="49.80" r="1.95" fill="#fff" stroke="#6a6a6a" stroke-width="0.6"/>
<circle cx="463.35" cy="63.48" r="1.95" fill="#fff" stroke="#6a6a6a" stroke-width="0.6"/>
<circle cx="471.68" cy="90.83" r="1.95" fill="#fff" stroke="#6a6a6a" stroke-width="0.6"/>
<circle cx="480.01" cy="112.68" r="1.95" fill="#fff" stroke="#6a6a6a" stroke-width="0.6"/>
<circle cx="488.34" cy="143.37" r="1.95" fill="#fff" stroke="#6a6a6a" stroke-width="0.6"/>
<circle cx="496.67" cy="164.72" r="1.95" fill="#fff" stroke="#6a6a6a" stroke-width="0.6"/>
<circle cx="505.00" cy="173.40" r="1.95" fill="#fff" stroke="#6a6a6a" stroke-width="0.6"/>
<circle cx="421.70" cy="163.89" r="1.95" fill="#fff" stroke="#6a6a6a" stroke-width="0.6"/>
<circle cx="430.03" cy="149.71" r="1.95" fill="#fff" stroke="#6a6a6a" stroke-width="0.6"/>
<circle cx="438.36" cy="134.70" r="1.95" fill="#fff" stroke="#6a6a6a" stroke-width="0.6"/>
<circle cx="446.69" cy="122.86" r="1.95" fill="#fff" stroke="#6a6a6a" stroke-width="0.6"/>
<circle cx="455.02" cy="113.52" r="1.95" fill="#fff" stroke="#6a6a6a" stroke-width="0.6"/>
<circle cx="463.35" cy="104.84" r="1.95" fill="#fff" stroke="#6a6a6a" stroke-width="0.6"/>
<circle cx="471.68" cy="83.16" r="1.95" fill="#fff" stroke="#6a6a6a" stroke-width="0.6"/>
<circle cx="480.01" cy="73.65" r="1.95" fill="#fff" stroke="#6a6a6a" stroke-width="0.6"/>
<circle cx="488.34" cy="48.80" r="1.95" fill="#fff" stroke="#6a6a6a" stroke-width="0.6"/>
<circle cx="496.67" cy="22.44" r="1.95" fill="#fff" stroke="#6a6a6a" stroke-width="0.6"/>
<circle cx="505.00" cy="8.60" r="1.95" fill="#fff" stroke="#6a6a6a" stroke-width="0.6"/>
<text class="t" transform="translate(418.10,178.70) scale(1,1.1)" text-anchor="end" font-size="9.4">0.0</text>
<text class="t" transform="translate(418.10,145.34) scale(1,1.1)" text-anchor="end" font-size="9.4">0.2</text>
<text class="t" transform="translate(418.10,111.98) scale(1,1.1)" text-anchor="end" font-size="9.4">0.4</text>
<text class="t" transform="translate(418.10,78.62) scale(1,1.1)" text-anchor="end" font-size="9.4">0.6</text>
<text class="t" transform="translate(418.10,45.26) scale(1,1.1)" text-anchor="end" font-size="9.4">0.8</text>
<text class="t" transform="translate(418.10,11.90) scale(1,1.1)" text-anchor="end" font-size="9.4">1.0</text>
<text class="t" transform="translate(421.70,186.80) scale(1,1.1)" text-anchor="middle" font-size="9.4">0.0</text>
<text class="t" transform="translate(438.36,186.80) scale(1,1.1)" text-anchor="middle" font-size="9.4">0.2</text>
<text class="t" transform="translate(455.02,186.80) scale(1,1.1)" text-anchor="middle" font-size="9.4">0.4</text>
<text class="t" transform="translate(471.68,186.80) scale(1,1.1)" text-anchor="middle" font-size="9.4">0.6</text>
<text class="t" transform="translate(488.34,186.80) scale(1,1.1)" text-anchor="middle" font-size="9.4">0.8</text>
<text class="t" transform="translate(505.00,186.80) scale(1,1.1)" text-anchor="middle" font-size="9.4">1.0</text>
<text class="t" transform="translate(421.70,196.50) scale(1,1.1)" text-anchor="middle" font-size="9.2">Pb</text>
<text class="t" transform="translate(505.00,196.50) scale(1,1.1)" text-anchor="middle" font-size="9.2">Pd</text>
<text class="t" transform="translate(459.55,196.60) scale(1,1.1)" font-size="9.5"><tspan font-style="italic">x</tspan><tspan font-size="7.4" dx="0.5" dy="2.9">Pd</tspan></text>
<text class="t" transform="translate(404.60,91.70) rotate(-90)" text-anchor="middle" font-size="9.75">Activity coefficient</text>
<text class="t" x="438.70" y="46.50" font-size="9.5"><tspan font-style="italic">γ</tspan><tspan font-size="7" dy="2.4">Pb</tspan></text>
<text class="t" x="438.40" y="117.60" font-size="9.5"><tspan font-style="italic">γ</tspan><tspan font-size="7" dy="2.4">Pd</tspan></text>
<path d="M443.90,136.30H447.02M452.74,136.30H454.30" stroke="#1a1a1a" stroke-width="1.3"/>
<text x="456.10" y="137.50" font-size="4.6" fill="#3a3a3a"><tspan font-style="italic">γ</tspan><tspan font-size="5.0" dy="1.2">pre., MIVM</tspan></text>
<path d="M443.90,144.10H454.30" stroke="#e83c3c" stroke-width="1.3"/>
<text x="456.10" y="145.30" font-size="4.6" fill="#3a3a3a"><tspan font-style="italic">γ</tspan><tspan font-size="5.0" dy="1.2">pre., M-MIVM</tspan></text>
<path d="M443.90,152.50H448.27M451.18,152.50H452.22" stroke="#2ed82e" stroke-width="1.3"/>
<text x="456.10" y="153.70" font-size="4.6" fill="#3a3a3a"><tspan font-style="italic">γ</tspan><tspan font-size="5.0" dy="1.2">pre., Wilson</tspan></text>
<path d="M443.90,160.50H446.60M449.93,160.50H450.76M453.26,160.50H454.30" stroke="#2a2ae0" stroke-width="1.3"/>
<text x="456.10" y="161.70" font-size="4.6" fill="#3a3a3a"><tspan font-style="italic">γ</tspan><tspan font-size="5.0" dy="1.2">pre., NRTL</tspan></text>
<circle cx="449.10" cy="167.70" r="1.95" fill="#fff" stroke="#6a6a6a" stroke-width="0.6"/>
<text x="456.10" y="168.90" font-size="4.6" fill="#3a3a3a"><tspan font-style="italic">γ</tspan><tspan font-size="5.0" dy="1.2">exp. data</tspan></text>
<clipPath id="c140049246937664"><rect x="30.10" y="240.70" width="83.50" height="167.80"/></clipPath>
<g clip-path="url(#c140049246937664)" fill="none" stroke-width="1.15">
<path d="M30.10,241.20 C31.49,244.12 35.67,253.04 38.45,258.71 C41.23,264.39 44.02,269.92 46.80,275.23 C49.58,280.54 52.37,285.57 55.15,290.57 C57.93,295.58 60.72,300.69 63.50,305.25 C66.28,309.81 69.07,313.40 71.85,317.93 C74.63,322.46 77.42,327.71 80.20,332.44 C82.98,337.17 85.77,341.53 88.55,346.28 C91.33,351.04 94.12,355.46 96.90,360.96 C99.68,366.47 102.47,371.47 105.25,379.31 C108.03,387.15 112.21,403.22 113.60,408.00" stroke="#1a1a1a" stroke-dasharray="4,2.4"/>
<path d="M30.10,408.00 C31.49,404.33 35.67,393.27 38.45,385.98 C41.23,378.70 44.02,371.36 46.80,364.30 C49.58,357.24 52.37,350.29 55.15,343.62 C57.93,336.94 60.72,329.94 63.50,324.27 C66.28,318.60 69.07,314.54 71.85,309.59 C74.63,304.64 77.42,299.30 80.20,294.58 C82.98,289.85 85.77,285.49 88.55,281.23 C91.33,276.98 94.12,273.23 96.90,269.06 C99.68,264.89 102.47,260.85 105.25,256.21 C108.03,251.57 112.21,243.70 113.60,241.20" stroke="#1a1a1a" stroke-dasharray="4,2.4"/>
<path d="M30.10,241.20 C31.49,244.26 35.67,253.49 38.45,259.55 C41.23,265.61 44.02,271.97 46.80,277.56 C49.58,283.15 52.37,288.32 55.15,293.07 C57.93,297.83 60.72,301.94 63.50,306.09 C66.28,310.23 69.07,313.84 71.85,317.93 C74.63,322.01 77.42,326.49 80.20,330.60 C82.98,334.72 85.77,337.86 88.55,342.61 C91.33,347.37 94.12,353.12 96.90,359.13 C99.68,365.13 102.47,370.50 105.25,378.64 C108.03,386.79 112.21,403.11 113.60,408.00" stroke="#e83c3c"/>
<path d="M30.10,408.00 C31.49,403.75 35.67,390.43 38.45,382.48 C41.23,374.53 44.02,367.63 46.80,360.30 C49.58,352.96 52.37,345.03 55.15,338.44 C57.93,331.86 60.72,325.99 63.50,320.76 C66.28,315.54 69.07,311.73 71.85,307.09 C74.63,302.44 77.42,297.27 80.20,292.91 C82.98,288.54 85.77,284.93 88.55,280.90 C91.33,276.87 94.12,272.84 96.90,268.72 C99.68,264.61 102.47,260.80 105.25,256.21 C108.03,251.62 112.21,243.70 113.60,241.20" stroke="#e83c3c"/>
<path d="M30.10,241.20 C31.49,244.12 35.67,253.04 38.45,258.71 C41.23,264.39 44.02,269.92 46.80,275.23 C49.58,280.54 52.37,285.57 55.15,290.57 C57.93,295.58 60.72,300.69 63.50,305.25 C66.28,309.81 69.07,313.40 71.85,317.93 C74.63,322.46 77.42,327.71 80.20,332.44 C82.98,337.17 85.77,341.53 88.55,346.28 C91.33,351.04 94.12,355.46 96.90,360.96 C99.68,366.47 102.47,371.47 105.25,379.31 C108.03,387.15 112.21,403.22 113.60,408.00" stroke="#2ed82e" stroke-dasharray="4.2,1.8,1,1.8"/>
<path d="M30.10,408.00 C31.49,404.33 35.67,393.27 38.45,385.98 C41.23,378.70 44.02,371.36 46.80,364.30 C49.58,357.24 52.37,350.29 55.15,343.62 C57.93,336.94 60.72,329.94 63.50,324.27 C66.28,318.60 69.07,314.54 71.85,309.59 C74.63,304.64 77.42,299.30 80.20,294.58 C82.98,289.85 85.77,285.49 88.55,281.23 C91.33,276.98 94.12,273.23 96.90,269.06 C99.68,264.89 102.47,260.85 105.25,256.21 C108.03,251.57 112.21,243.70 113.60,241.20" stroke="#2ed82e" stroke-dasharray="4.2,1.8,1,1.8"/>
<path d="M30.10,241.20 C31.49,244.12 35.67,253.04 38.45,258.71 C41.23,264.39 44.02,269.92 46.80,275.23 C49.58,280.54 52.37,285.57 55.15,290.57 C57.93,295.58 60.72,300.69 63.50,305.25 C66.28,309.81 69.07,313.40 71.85,317.93 C74.63,322.46 77.42,327.71 80.20,332.44 C82.98,337.17 85.77,341.53 88.55,346.28 C91.33,351.04 94.12,355.46 96.90,360.96 C99.68,366.47 102.47,371.47 105.25,379.31 C108.03,387.15 112.21,403.22 113.60,408.00" stroke="#2a2ae0" stroke-dasharray="3.4,1.5,1,1.5,1,1.5"/>
<path d="M30.10,408.00 C31.49,404.33 35.67,393.27 38.45,385.98 C41.23,378.70 44.02,371.36 46.80,364.30 C49.58,357.24 52.37,350.29 55.15,343.62 C57.93,336.94 60.72,329.94 63.50,324.27 C66.28,318.60 69.07,314.54 71.85,309.59 C74.63,304.64 77.42,299.30 80.20,294.58 C82.98,289.85 85.77,285.49 88.55,281.23 C91.33,276.98 94.12,273.23 96.90,269.06 C99.68,264.89 102.47,260.85 105.25,256.21 C108.03,251.57 112.21,243.70 113.60,241.20" stroke="#2a2ae0" stroke-dasharray="3.4,1.5,1,1.5,1,1.5"/>
</g>
<rect x="30.10" y="241.20" width="83.50" height="166.80" fill="none" stroke="#333333" stroke-width="1.1"/>
<path d="M30.10,408.00h3.3M30.10,391.32h3.3M30.10,374.64h3.3M30.10,357.96h3.3M30.10,341.28h3.3M30.10,324.60h3.3M30.10,307.92h3.3M30.10,291.24h3.3M30.10,274.56h3.3M30.10,257.88h3.3M30.10,241.20h3.3M30.10,399.66h1.8M30.10,382.98h1.8M30.10,366.30h1.8M30.10,349.62h1.8M30.10,332.94h1.8M30.10,316.26h1.8M30.10,299.58h1.8M30.10,282.90h1.8M30.10,266.22h1.8M30.10,249.54h1.8M30.10,408.00v-3.3M38.45,408.00v-1.8M46.80,408.00v-3.3M55.15,408.00v-1.8M63.50,408.00v-3.3M71.85,408.00v-1.8M80.20,408.00v-3.3M88.55,408.00v-1.8M96.90,408.00v-3.3M105.25,408.00v-1.8M113.60,408.00v-3.3" stroke="#333333" stroke-width="1" fill="none"/>
<circle cx="30.10" cy="241.20" r="1.95" fill="#fff" stroke="#6a6a6a" stroke-width="0.6"/>
<circle cx="38.45" cy="260.05" r="1.95" fill="#fff" stroke="#6a6a6a" stroke-width="0.6"/>
<circle cx="46.80" cy="277.06" r="1.95" fill="#fff" stroke="#6a6a6a" stroke-width="0.6"/>
<circle cx="55.15" cy="292.24" r="1.95" fill="#fff" stroke="#6a6a6a" stroke-width="0.6"/>
<circle cx="63.50" cy="305.58" r="1.95" fill="#fff" stroke="#6a6a6a" stroke-width="0.6"/>
<circle cx="71.85" cy="316.93" r="1.95" fill="#fff" stroke="#6a6a6a" stroke-width="0.6"/>
<circle cx="80.20" cy="332.27" r="1.95" fill="#fff" stroke="#6a6a6a" stroke-width="0.6"/>
<circle cx="88.55" cy="345.45" r="1.95" fill="#fff" stroke="#6a6a6a" stroke-width="0.6"/>
<circle cx="96.90" cy="359.79" r="1.95" fill="#fff" stroke="#6a6a6a" stroke-width="0.6"/>
<circle cx="105.25" cy="379.64" r="1.95" fill="#fff" stroke="#6a6a6a" stroke-width="0.6"/>
<circle cx="113.60" cy="408.00" r="1.95" fill="#fff" stroke="#6a6a6a" stroke-width="0.6"/>
<circle cx="30.10" cy="408.00" r="1.95" fill="#fff" stroke="#6a6a6a" stroke-width="0.6"/>
<circle cx="38.45" cy="385.15" r="1.95" fill="#fff" stroke="#6a6a6a" stroke-width="0.6"/>
<circle cx="46.80" cy="361.80" r="1.95" fill="#fff" stroke="#6a6a6a" stroke-width="0.6"/>
<circle cx="55.15" cy="340.28" r="1.95" fill="#fff" stroke="#6a6a6a" stroke-width="0.6"/>
<circle cx="63.50" cy="322.60" r="1.95" fill="#fff" stroke="#6a6a6a" stroke-width="0.6"/>
<circle cx="71.85" cy="308.59" r="1.95" fill="#fff" stroke="#6a6a6a" stroke-width="0.6"/>
<circle cx="80.20" cy="292.91" r="1.95" fill="#fff" stroke="#6a6a6a" stroke-width="0.6"/>
<circle cx="88.55" cy="281.23" r="1.95" fill="#fff" stroke="#6a6a6a" stroke-width="0.6"/>
<circle cx="96.90" cy="268.72" r="1.95" fill="#fff" stroke="#6a6a6a" stroke-width="0.6"/>
<circle cx="105.25" cy="256.71" r="1.95" fill="#fff" stroke="#6a6a6a" stroke-width="0.6"/>
<circle cx="113.60" cy="241.20" r="1.95" fill="#fff" stroke="#6a6a6a" stroke-width="0.6"/>
<text class="t" transform="translate(26.50,411.30) scale(1,1.1)" text-anchor="end" font-size="9.4">0.0</text>
<text class="t" transform="translate(26.50,394.62) scale(1,1.1)" text-anchor="end" font-size="9.4">0.1</text>
<text class="t" transform="translate(26.50,377.94) scale(1,1.1)" text-anchor="end" font-size="9.4">0.2</text>
<text class="t" transform="translate(26.50,361.26) scale(1,1.1)" text-anchor="end" font-size="9.4">0.3</text>
<text class="t" transform="translate(26.50,344.58) scale(1,1.1)" text-anchor="end" font-size="9.4">0.4</text>
<text class="t" transform="translate(26.50,327.90) scale(1,1.1)" text-anchor="end" font-size="9.4">0.5</text>
<text class="t" transform="translate(26.50,311.22) scale(1,1.1)" text-anchor="end" font-size="9.4">0.6</text>
<text class="t" transform="translate(26.50,294.54) scale(1,1.1)" text-anchor="end" font-size="9.4">0.7</text>
<text class="t" transform="translate(26.50,277.86) scale(1,1.1)" text-anchor="end" font-size="9.4">0.8</text>
<text class="t" transform="translate(26.50,261.18) scale(1,1.1)" text-anchor="end" font-size="9.4">0.9</text>
<text class="t" transform="translate(26.50,244.50) scale(1,1.1)" text-anchor="end" font-size="9.4">1.0</text>
<text class="t" transform="translate(30.10,419.40) scale(1,1.1)" text-anchor="middle" font-size="9.4">0.0</text>
<text class="t" transform="translate(46.80,419.40) scale(1,1.1)" text-anchor="middle" font-size="9.4">0.2</text>
<text class="t" transform="translate(63.50,419.40) scale(1,1.1)" text-anchor="middle" font-size="9.4">0.4</text>
<text class="t" transform="translate(80.20,419.40) scale(1,1.1)" text-anchor="middle" font-size="9.4">0.6</text>
<text class="t" transform="translate(96.90,419.40) scale(1,1.1)" text-anchor="middle" font-size="9.4">0.8</text>
<text class="t" transform="translate(113.60,419.40) scale(1,1.1)" text-anchor="middle" font-size="9.4">1.0</text>
<text class="t" transform="translate(30.10,429.10) scale(1,1.1)" text-anchor="middle" font-size="9.2">Ag</text>
<text class="t" transform="translate(113.60,429.10) scale(1,1.1)" text-anchor="middle" font-size="9.2">Pb</text>
<text class="t" transform="translate(68.05,429.20) scale(1,1.1)" font-size="9.5"><tspan font-style="italic">x</tspan><tspan font-size="7.4" dx="0.5" dy="2.9">Pb</tspan></text>
<text class="t" transform="translate(10.90,323.15) rotate(-90)" text-anchor="middle" font-size="9.5">Activity</text>
<text class="t" x="35.30" y="287.10" font-size="9.5"><tspan font-style="italic">a</tspan><tspan font-size="7" dy="2.4">Ag</tspan></text>
<text class="t" x="35.60" y="350.50" font-size="9.5"><tspan font-style="italic">a</tspan><tspan font-size="7" dy="2.4">Pb</tspan></text>
<path d="M52.60,364.30H55.54M60.93,364.30H62.40" stroke="#1a1a1a" stroke-width="1.3"/>
<text x="64.20" y="365.50" font-size="4.6" fill="#3a3a3a"><tspan font-style="italic">a</tspan><tspan font-size="5.0" dy="1.2">pre., MIVM</tspan></text>
<path d="M52.60,373.00H62.40" stroke="#e83c3c" stroke-width="1.3"/>
<text x="64.20" y="374.20" font-size="4.6" fill="#3a3a3a"><tspan font-style="italic">a</tspan><tspan font-size="5.0" dy="1.2">pre., M-MIVM</tspan></text>
<path d="M52.60,381.20H56.72M59.46,381.20H60.44" stroke="#2ed82e" stroke-width="1.3"/>
<text x="64.20" y="382.40" font-size="4.6" fill="#3a3a3a"><tspan font-style="italic">a</tspan><tspan font-size="5.0" dy="1.2">pre., Wilson</tspan></text>
<path d="M52.60,389.40H55.15M58.28,389.40H59.07M61.42,389.40H62.40" stroke="#2a2ae0" stroke-width="1.3"/>
<text x="64.20" y="390.60" font-size="4.6" fill="#3a3a3a"><tspan font-style="italic">a</tspan><tspan font-size="5.0" dy="1.2">pre., NRTL</tspan></text>
<circle cx="57.50" cy="397.10" r="1.95" fill="#fff" stroke="#6a6a6a" stroke-width="0.6"/>
<text x="64.20" y="398.30" font-size="4.6" fill="#3a3a3a"><tspan font-style="italic">a</tspan><tspan font-size="5.0" dy="1.2">exp. data</tspan></text>
<clipPath id="c140049246937760"><rect x="156.30" y="240.80" width="84.00" height="167.70"/></clipPath>
<g clip-path="url(#c140049246937760)" fill="none" stroke-width="1.15">
<path d="M156.30,357.36 C157.70,357.47 161.90,357.57 164.70,357.99 C167.50,358.41 170.30,359.10 173.10,359.87 C175.90,360.63 178.70,361.55 181.50,362.57 C184.30,363.60 187.10,364.85 189.90,366.01 C192.70,367.18 195.50,368.25 198.30,369.55 C201.10,370.86 203.90,372.30 206.70,373.83 C209.50,375.35 212.30,377.23 215.10,378.72 C217.90,380.22 220.70,381.64 223.50,382.79 C226.30,383.93 229.10,384.87 231.90,385.60 C234.70,386.33 238.90,386.90 240.30,387.16" stroke="#1a1a1a" stroke-dasharray="4,2.4"/>
<path d="M156.30,387.16 C157.70,387.06 161.90,386.73 164.70,386.54 C167.50,386.35 170.30,386.26 173.10,386.02 C175.90,385.77 178.70,385.62 181.50,385.08 C184.30,384.54 187.10,383.79 189.90,382.79 C192.70,381.78 195.50,380.67 198.30,379.04 C201.10,377.40 203.90,375.58 206.70,372.99 C209.50,370.41 212.30,367.54 215.10,363.51 C217.90,359.48 220.70,356.34 223.50,348.82 C226.30,341.30 229.10,331.28 231.90,318.40 C234.70,305.51 238.90,279.33 240.30,271.51" stroke="#1a1a1a" stroke-dasharray="4,2.4"/>
<path d="M156.30,387.16 C157.00,383.50 159.10,371.01 160.50,365.18 C161.90,359.34 163.30,355.04 164.70,352.16 C166.10,349.27 167.50,348.87 168.90,347.88 C170.30,346.89 171.00,345.92 173.10,346.22 C175.20,346.51 178.70,347.64 181.50,349.65 C184.30,351.67 187.10,355.42 189.90,358.30 C192.70,361.19 195.50,364.36 198.30,366.95 C201.10,369.54 203.90,371.81 206.70,373.83 C209.50,375.84 212.30,377.46 215.10,379.04 C217.90,380.62 220.70,382.16 223.50,383.31 C226.30,384.45 229.10,385.27 231.90,385.91 C234.70,386.55 238.90,386.95 240.30,387.16" stroke="#e83c3c"/>
<path d="M156.30,387.16 C157.70,387.39 161.90,388.10 164.70,388.52 C167.50,388.93 170.30,389.66 173.10,389.66 C175.90,389.66 178.70,389.28 181.50,388.52 C184.30,387.75 187.10,386.66 189.90,385.08 C192.70,383.50 195.50,381.43 198.30,379.04 C201.10,376.64 203.90,374.16 206.70,370.70 C209.50,367.25 212.30,363.41 215.10,358.30 C217.90,353.20 220.70,347.59 223.50,340.07 C226.30,332.55 229.10,322.24 231.90,313.19 C234.70,304.14 238.90,290.35 240.30,285.79" stroke="#e83c3c"/>
<path d="M156.30,350.49 C157.70,351.22 161.90,353.42 164.70,354.86 C167.50,356.31 170.30,357.85 173.10,359.14 C175.90,360.42 178.70,361.43 181.50,362.57 C184.30,363.72 187.10,364.85 189.90,366.01 C192.70,367.18 195.50,368.25 198.30,369.55 C201.10,370.86 203.90,372.30 206.70,373.83 C209.50,375.35 212.30,377.23 215.10,378.72 C217.90,380.22 220.70,381.64 223.50,382.79 C226.30,383.93 229.10,384.87 231.90,385.60 C234.70,386.33 238.90,386.90 240.30,387.16" stroke="#2ed82e" stroke-dasharray="4.2,1.8,1,1.8"/>
<path d="M156.30,387.16 C157.70,387.06 161.90,386.73 164.70,386.54 C167.50,386.35 170.30,386.26 173.10,386.02 C175.90,385.77 178.70,385.62 181.50,385.08 C184.30,384.54 187.10,383.79 189.90,382.79 C192.70,381.78 195.50,380.67 198.30,379.04 C201.10,377.40 203.90,375.58 206.70,372.99 C209.50,370.41 212.30,367.54 215.10,363.51 C217.90,359.48 220.70,356.34 223.50,348.82 C226.30,341.30 229.10,331.28 231.90,318.40 C234.70,305.51 238.90,279.33 240.30,271.51" stroke="#2ed82e" stroke-dasharray="4.2,1.8,1,1.8"/>
<path d="M156.30,357.36 C157.70,357.38 161.90,357.10 164.70,357.47 C167.50,357.83 170.30,358.70 173.10,359.55 C175.90,360.40 178.70,361.50 181.50,362.57 C184.30,363.65 187.10,364.85 189.90,366.01 C192.70,367.18 195.50,368.25 198.30,369.55 C201.10,370.86 203.90,372.30 206.70,373.83 C209.50,375.35 212.30,377.23 215.10,378.72 C217.90,380.22 220.70,381.64 223.50,382.79 C226.30,383.93 229.10,384.87 231.90,385.60 C234.70,386.33 238.90,386.90 240.30,387.16" stroke="#2a2ae0" stroke-dasharray="3.4,1.5,1,1.5,1,1.5"/>
<path d="M156.30,387.16 C157.70,387.06 161.90,386.73 164.70,386.54 C167.50,386.35 170.30,386.26 173.10,386.02 C175.90,385.77 178.70,385.62 181.50,385.08 C184.30,384.54 187.10,383.79 189.90,382.79 C192.70,381.78 195.50,380.67 198.30,379.04 C201.10,377.40 203.90,375.58 206.70,372.99 C209.50,370.41 212.30,367.54 215.10,363.51 C217.90,359.48 220.70,356.34 223.50,348.82 C226.30,341.30 229.10,331.28 231.90,318.40 C234.70,305.51 238.90,279.33 240.30,271.51" stroke="#2a2ae0" stroke-dasharray="3.4,1.5,1,1.5,1,1.5"/>
</g>
<rect x="156.30" y="241.30" width="84.00" height="166.70" fill="none" stroke="#333333" stroke-width="1.1"/>
<path d="M156.30,408.00h3.3M156.30,366.32h3.3M156.30,324.65h3.3M156.30,282.98h3.3M156.30,241.30h3.3M156.30,387.16h1.8M156.30,345.49h1.8M156.30,303.81h1.8M156.30,262.14h1.8M156.30,408.00v-3.3M164.70,408.00v-1.8M173.10,408.00v-3.3M181.50,408.00v-1.8M189.90,408.00v-3.3M198.30,408.00v-1.8M206.70,408.00v-3.3M215.10,408.00v-1.8M223.50,408.00v-3.3M231.90,408.00v-1.8M240.30,408.00v-3.3" stroke="#333333" stroke-width="1" fill="none"/>
<circle cx="156.30" cy="387.16" r="1.95" fill="#fff" stroke="#6a6a6a" stroke-width="0.6"/>
<circle cx="164.70" cy="347.88" r="1.95" fill="#fff" stroke="#6a6a6a" stroke-width="0.6"/>
<circle cx="173.10" cy="346.11" r="1.95" fill="#fff" stroke="#6a6a6a" stroke-width="0.6"/>
<circle cx="181.50" cy="349.65" r="1.95" fill="#fff" stroke="#6a6a6a" stroke-width="0.6"/>
<circle cx="189.90" cy="357.99" r="1.95" fill="#fff" stroke="#6a6a6a" stroke-width="0.6"/>
<circle cx="198.30" cy="368.20" r="1.95" fill="#fff" stroke="#6a6a6a" stroke-width="0.6"/>
<circle cx="206.70" cy="371.95" r="1.95" fill="#fff" stroke="#6a6a6a" stroke-width="0.6"/>
<circle cx="215.10" cy="377.79" r="1.95" fill="#fff" stroke="#6a6a6a" stroke-width="0.6"/>
<circle cx="223.50" cy="383.41" r="1.95" fill="#fff" stroke="#6a6a6a" stroke-width="0.6"/>
<circle cx="231.90" cy="386.43" r="1.95" fill="#fff" stroke="#6a6a6a" stroke-width="0.6"/>
<circle cx="240.30" cy="387.16" r="1.95" fill="#fff" stroke="#6a6a6a" stroke-width="0.6"/>
<circle cx="156.30" cy="395.29" r="1.95" fill="#fff" stroke="#6a6a6a" stroke-width="0.6"/>
<circle cx="164.70" cy="389.25" r="1.95" fill="#fff" stroke="#6a6a6a" stroke-width="0.6"/>
<circle cx="173.10" cy="389.25" r="1.95" fill="#fff" stroke="#6a6a6a" stroke-width="0.6"/>
<circle cx="181.50" cy="388.52" r="1.95" fill="#fff" stroke="#6a6a6a" stroke-width="0.6"/>
<circle cx="189.90" cy="384.04" r="1.95" fill="#fff" stroke="#6a6a6a" stroke-width="0.6"/>
<circle cx="198.30" cy="377.58" r="1.95" fill="#fff" stroke="#6a6a6a" stroke-width="0.6"/>
<circle cx="206.70" cy="371.53" r="1.95" fill="#fff" stroke="#6a6a6a" stroke-width="0.6"/>
<circle cx="215.10" cy="360.59" r="1.95" fill="#fff" stroke="#6a6a6a" stroke-width="0.6"/>
<circle cx="223.50" cy="341.11" r="1.95" fill="#fff" stroke="#6a6a6a" stroke-width="0.6"/>
<circle cx="231.90" cy="314.96" r="1.95" fill="#fff" stroke="#6a6a6a" stroke-width="0.6"/>
<circle cx="240.30" cy="279.54" r="1.95" fill="#fff" stroke="#6a6a6a" stroke-width="0.6"/>
<text class="t" transform="translate(152.70,411.30) scale(1,1.1)" text-anchor="end" font-size="9.4">0.8</text>
<text class="t" transform="translate(152.70,369.62) scale(1,1.1)" text-anchor="end" font-size="9.4">1.2</text>
<text class="t" transform="translate(152.70,327.95) scale(1,1.1)" text-anchor="end" font-size="9.4">1.6</text>
<text class="t" transform="translate(152.70,286.28) scale(1,1.1)" text-anchor="end" font-size="9.4">2.0</text>
<text class="t" transform="translate(152.70,244.60) scale(1,1.1)" text-anchor="end" font-size="9.4">2.4</text>
<text class="t" transform="translate(156.30,419.40) scale(1,1.1)" text-anchor="middle" font-size="9.4">0.0</text>
<text class="t" transform="translate(173.10,419.40) scale(1,1.1)" text-anchor="middle" font-size="9.4">0.2</text>
<text class="t" transform="translate(189.90,419.40) scale(1,1.1)" text-anchor="middle" font-size="9.4">0.4</text>
<text class="t" transform="translate(206.70,419.40) scale(1,1.1)" text-anchor="middle" font-size="9.4">0.6</text>
<text class="t" transform="translate(223.50,419.40) scale(1,1.1)" text-anchor="middle" font-size="9.4">0.8</text>
<text class="t" transform="translate(240.30,419.40) scale(1,1.1)" text-anchor="middle" font-size="9.4">1.0</text>
<text class="t" transform="translate(156.30,429.10) scale(1,1.1)" text-anchor="middle" font-size="9.2">Ag</text>
<text class="t" transform="translate(240.30,429.10) scale(1,1.1)" text-anchor="middle" font-size="9.2">Pb</text>
<text class="t" transform="translate(194.50,429.20) scale(1,1.1)" font-size="9.5"><tspan font-style="italic">x</tspan><tspan font-size="7.4" dx="0.5" dy="2.9">Pb</tspan></text>
<text class="t" transform="translate(139.90,326.00) rotate(-90)" text-anchor="middle" font-size="9.75">Activity coefficient</text>
<text class="t" x="171.10" y="340.50" font-size="9.5"><tspan font-style="italic">γ</tspan><tspan font-size="7" dy="2.4">Ag</tspan></text>
<text class="t" x="170.30" y="397.50" font-size="9.5"><tspan font-style="italic">γ</tspan><tspan font-size="7" dy="2.4">Pb</tspan></text>
<path d="M177.20,262.90H180.05M185.27,262.90H186.70" stroke="#1a1a1a" stroke-width="1.3"/>
<text x="188.50" y="264.10" font-size="4.6" fill="#3a3a3a"><tspan font-style="italic">γ</tspan><tspan font-size="5.0" dy="1.2">pre., MIVM</tspan></text>
<path d="M177.20,271.20H186.70" stroke="#e83c3c" stroke-width="1.3"/>
<text x="188.50" y="272.40" font-size="4.6" fill="#3a3a3a"><tspan font-style="italic">γ</tspan><tspan font-size="5.0" dy="1.2">pre., M-MIVM</tspan></text>
<path d="M177.20,279.00H181.19M183.85,279.00H184.80" stroke="#2ed82e" stroke-width="1.3"/>
<text x="188.50" y="280.20" font-size="4.6" fill="#3a3a3a"><tspan font-style="italic">γ</tspan><tspan font-size="5.0" dy="1.2">pre., Wilson</tspan></text>
<path d="M177.20,287.10H179.67M182.71,287.10H183.47M185.75,287.10H186.70" stroke="#2a2ae0" stroke-width="1.3"/>
<text x="188.50" y="288.30" font-size="4.6" fill="#3a3a3a"><tspan font-style="italic">γ</tspan><tspan font-size="5.0" dy="1.2">pre., NRTL</tspan></text>
<circle cx="181.95" cy="295.40" r="1.95" fill="#fff" stroke="#6a6a6a" stroke-width="0.6"/>
<text x="188.50" y="296.60" font-size="4.6" fill="#3a3a3a"><tspan font-style="italic">γ</tspan><tspan font-size="5.0" dy="1.2">exp. data</tspan></text>
<clipPath id="c140049246937856"><rect x="294.80" y="239.10" width="83.25" height="168.90"/></clipPath>
<g clip-path="url(#c140049246937856)" fill="none" stroke-width="1.15">
<path d="M294.80,239.60 C296.19,242.45 300.35,251.02 303.12,256.73 C305.90,262.43 308.67,268.31 311.45,273.85 C314.23,279.39 317.00,284.49 319.78,289.97 C322.55,295.45 325.33,301.08 328.10,306.76 C330.88,312.44 333.65,318.96 336.43,324.05 C339.20,329.15 341.98,333.23 344.75,337.32 C347.52,341.40 350.30,344.54 353.07,348.57 C355.85,352.60 358.62,356.60 361.40,361.50 C364.18,366.39 366.95,370.28 369.73,377.95 C372.50,385.62 376.66,402.57 378.05,407.50" stroke="#1a1a1a" stroke-dasharray="4,2.4"/>
<path d="M294.80,407.50 C296.19,404.28 300.35,394.71 303.12,388.19 C305.90,381.67 308.67,375.71 311.45,368.38 C314.23,361.05 317.00,351.98 319.78,344.20 C322.55,336.42 325.33,329.26 328.10,321.70 C330.88,314.15 333.65,304.97 336.43,298.87 C339.20,292.77 341.98,289.27 344.75,285.10 C347.52,280.93 350.30,277.74 353.07,273.85 C355.85,269.96 358.62,265.51 361.40,261.76 C364.18,258.01 366.95,255.05 369.73,251.35 C372.50,247.66 376.66,241.56 378.05,239.60" stroke="#1a1a1a" stroke-dasharray="4,2.4"/>
<path d="M294.80,239.60 C296.19,243.29 300.35,254.35 303.12,261.76 C305.90,269.18 308.67,276.45 311.45,284.09 C314.23,291.73 317.00,301.30 319.78,307.60 C322.55,313.90 325.33,317.51 328.10,321.87 C330.88,326.24 333.65,330.52 336.43,333.79 C339.20,337.07 341.98,338.91 344.75,341.52 C347.52,344.12 350.30,346.22 353.07,349.41 C355.85,352.60 358.62,356.07 361.40,360.66 C364.18,365.25 366.95,369.13 369.73,376.94 C372.50,384.75 376.66,402.41 378.05,407.50" stroke="#e83c3c"/>
<path d="M294.80,407.50 C296.19,404.87 300.35,397.68 303.12,391.72 C305.90,385.76 308.67,379.52 311.45,371.74 C314.23,363.96 317.00,353.66 319.78,345.04 C322.55,336.42 325.33,328.73 328.10,320.02 C330.88,311.32 333.65,299.37 336.43,292.82 C339.20,286.28 341.98,284.32 344.75,280.74 C347.52,277.15 350.30,274.36 353.07,271.33 C355.85,268.31 358.62,265.93 361.40,262.60 C364.18,259.27 366.95,255.19 369.73,251.35 C372.50,247.52 376.66,241.56 378.05,239.60" stroke="#e83c3c"/>
<path d="M294.80,239.60 C296.19,242.45 300.35,251.02 303.12,256.73 C305.90,262.43 308.67,268.31 311.45,273.85 C314.23,279.39 317.00,284.49 319.78,289.97 C322.55,295.45 325.33,301.08 328.10,306.76 C330.88,312.44 333.65,318.96 336.43,324.05 C339.20,329.15 341.98,333.23 344.75,337.32 C347.52,341.40 350.30,344.54 353.07,348.57 C355.85,352.60 358.62,356.60 361.40,361.50 C364.18,366.39 366.95,370.28 369.73,377.95 C372.50,385.62 376.66,402.57 378.05,407.50" stroke="#2ed82e" stroke-dasharray="4.2,1.8,1,1.8"/>
<path d="M294.80,407.50 C296.19,404.28 300.35,394.71 303.12,388.19 C305.90,381.67 308.67,375.71 311.45,368.38 C314.23,361.05 317.00,351.98 319.78,344.20 C322.55,336.42 325.33,329.26 328.10,321.70 C330.88,314.15 333.65,304.97 336.43,298.87 C339.20,292.77 341.98,289.27 344.75,285.10 C347.52,280.93 350.30,277.74 353.07,273.85 C355.85,269.96 358.62,265.51 361.40,261.76 C364.18,258.01 366.95,255.05 369.73,251.35 C372.50,247.66 376.66,241.56 378.05,239.60" stroke="#2ed82e" stroke-dasharray="4.2,1.8,1,1.8"/>
<path d="M294.80,239.60 C296.19,242.45 300.35,251.02 303.12,256.73 C305.90,262.43 308.67,268.31 311.45,273.85 C314.23,279.39 317.00,284.49 319.78,289.97 C322.55,295.45 325.33,301.08 328.10,306.76 C330.88,312.44 333.65,318.96 336.43,324.05 C339.20,329.15 341.98,333.23 344.75,337.32 C347.52,341.40 350.30,344.54 353.07,348.57 C355.85,352.60 358.62,356.60 361.40,361.50 C364.18,366.39 366.95,370.28 369.73,377.95 C372.50,385.62 376.66,402.57 378.05,407.50" stroke="#2a2ae0" stroke-dasharray="3.4,1.5,1,1.5,1,1.5"/>
<path d="M294.80,407.50 C296.19,404.28 300.35,394.71 303.12,388.19 C305.90,381.67 308.67,375.71 311.45,368.38 C314.23,361.05 317.00,351.98 319.78,344.20 C322.55,336.42 325.33,329.26 328.10,321.70 C330.88,314.15 333.65,304.97 336.43,298.87 C339.20,292.77 341.98,289.27 344.75,285.10 C347.52,280.93 350.30,277.74 353.07,273.85 C355.85,269.96 358.62,265.51 361.40,261.76 C364.18,258.01 366.95,255.05 369.73,251.35 C372.50,247.66 376.66,241.56 378.05,239.60" stroke="#2a2ae0" stroke-dasharray="3.4,1.5,1,1.5,1,1.5"/>
</g>
<rect x="294.80" y="239.60" width="83.25" height="167.90" fill="none" stroke="#333333" stroke-width="1.1"/>
<path d="M294.80,407.50h3.3M294.80,390.71h3.3M294.80,373.92h3.3M294.80,357.13h3.3M294.80,340.34h3.3M294.80,323.55h3.3M294.80,306.76h3.3M294.80,289.97h3.3M294.80,273.18h3.3M294.80,256.39h3.3M294.80,239.60h3.3M294.80,399.11h1.8M294.80,382.31h1.8M294.80,365.52h1.8M294.80,348.74h1.8M294.80,331.94h1.8M294.80,315.15h1.8M294.80,298.37h1.8M294.80,281.57h1.8M294.80,264.78h1.8M294.80,247.99h1.8M294.80,407.50v-3.3M303.12,407.50v-1.8M311.45,407.50v-3.3M319.78,407.50v-1.8M328.10,407.50v-3.3M336.43,407.50v-1.8M344.75,407.50v-3.3M353.07,407.50v-1.8M361.40,407.50v-3.3M369.73,407.50v-1.8M378.05,407.50v-3.3" stroke="#333333" stroke-width="1" fill="none"/>
<circle cx="294.80" cy="239.60" r="1.95" fill="#fff" stroke="#6a6a6a" stroke-width="0.6"/>
<circle cx="309.45" cy="279.56" r="1.95" fill="#fff" stroke="#6a6a6a" stroke-width="0.6"/>
<circle cx="311.20" cy="283.76" r="1.95" fill="#fff" stroke="#6a6a6a" stroke-width="0.6"/>
<circle cx="319.53" cy="306.59" r="1.95" fill="#fff" stroke="#6a6a6a" stroke-width="0.6"/>
<circle cx="328.10" cy="310.79" r="1.95" fill="#fff" stroke="#6a6a6a" stroke-width="0.6"/>
<circle cx="336.43" cy="331.94" r="1.95" fill="#fff" stroke="#6a6a6a" stroke-width="0.6"/>
<circle cx="344.75" cy="340.34" r="1.95" fill="#fff" stroke="#6a6a6a" stroke-width="0.6"/>
<circle cx="353.07" cy="349.24" r="1.95" fill="#fff" stroke="#6a6a6a" stroke-width="0.6"/>
<circle cx="361.40" cy="361.83" r="1.95" fill="#fff" stroke="#6a6a6a" stroke-width="0.6"/>
<circle cx="369.73" cy="376.94" r="1.95" fill="#fff" stroke="#6a6a6a" stroke-width="0.6"/>
<circle cx="378.05" cy="407.50" r="1.95" fill="#fff" stroke="#6a6a6a" stroke-width="0.6"/>
<circle cx="310.12" cy="373.92" r="1.95" fill="#fff" stroke="#6a6a6a" stroke-width="0.6"/>
<circle cx="311.20" cy="369.05" r="1.95" fill="#fff" stroke="#6a6a6a" stroke-width="0.6"/>
<circle cx="319.78" cy="337.32" r="1.95" fill="#fff" stroke="#6a6a6a" stroke-width="0.6"/>
<circle cx="336.43" cy="293.33" r="1.95" fill="#fff" stroke="#6a6a6a" stroke-width="0.6"/>
<circle cx="344.75" cy="283.25" r="1.95" fill="#fff" stroke="#6a6a6a" stroke-width="0.6"/>
<circle cx="353.07" cy="272.68" r="1.95" fill="#fff" stroke="#6a6a6a" stroke-width="0.6"/>
<circle cx="361.40" cy="261.76" r="1.95" fill="#fff" stroke="#6a6a6a" stroke-width="0.6"/>
<circle cx="369.73" cy="251.19" r="1.95" fill="#fff" stroke="#6a6a6a" stroke-width="0.6"/>
<circle cx="378.05" cy="239.60" r="1.95" fill="#fff" stroke="#6a6a6a" stroke-width="0.6"/>
<circle cx="294.80" cy="407.50" r="1.95" fill="#fff" stroke="#6a6a6a" stroke-width="0.6"/>
<text class="t" transform="translate(291.20,410.80) scale(1,1.1)" text-anchor="end" font-size="9.4">0.0</text>
<text class="t" transform="translate(291.20,394.01) scale(1,1.1)" text-anchor="end" font-size="9.4">0.1</text>
<text class="t" transform="translate(291.20,377.22) scale(1,1.1)" text-anchor="end" font-size="9.4">0.2</text>
<text class="t" transform="translate(291.20,360.43) scale(1,1.1)" text-anchor="end" font-size="9.4">0.3</text>
<text class="t" transform="translate(291.20,343.64) scale(1,1.1)" text-anchor="end" font-size="9.4">0.4</text>
<text class="t" transform="translate(291.20,326.85) scale(1,1.1)" text-anchor="end" font-size="9.4">0.5</text>
<text class="t" transform="translate(291.20,310.06) scale(1,1.1)" text-anchor="end" font-size="9.4">0.6</text>
<text class="t" transform="translate(291.20,293.27) scale(1,1.1)" text-anchor="end" font-size="9.4">0.7</text>
<text class="t" transform="translate(291.20,276.48) scale(1,1.1)" text-anchor="end" font-size="9.4">0.8</text>
<text class="t" transform="translate(291.20,259.69) scale(1,1.1)" text-anchor="end" font-size="9.4">0.9</text>
<text class="t" transform="translate(291.20,242.90) scale(1,1.1)" text-anchor="end" font-size="9.4">1.0</text>
<text class="t" transform="translate(294.80,418.90) scale(1,1.1)" text-anchor="middle" font-size="9.4">0.0</text>
<text class="t" transform="translate(311.45,418.90) scale(1,1.1)" text-anchor="middle" font-size="9.4">0.2</text>
<text class="t" transform="translate(328.10,418.90) scale(1,1.1)" text-anchor="middle" font-size="9.4">0.4</text>
<text class="t" transform="translate(344.75,418.90) scale(1,1.1)" text-anchor="middle" font-size="9.4">0.6</text>
<text class="t" transform="translate(361.40,418.90) scale(1,1.1)" text-anchor="middle" font-size="9.4">0.8</text>
<text class="t" transform="translate(378.05,418.90) scale(1,1.1)" text-anchor="middle" font-size="9.4">1.0</text>
<text class="t" transform="translate(294.80,428.60) scale(1,1.1)" text-anchor="middle" font-size="9.2">Ag</text>
<text class="t" transform="translate(378.05,428.60) scale(1,1.1)" text-anchor="middle" font-size="9.2">Bi</text>
<text class="t" transform="translate(332.62,428.70) scale(1,1.1)" font-size="9.5"><tspan font-style="italic">x</tspan><tspan font-size="7.4" dx="0.5" dy="2.9">Bi</tspan></text>
<text class="t" transform="translate(276.30,322.10) rotate(-90)" text-anchor="middle" font-size="9.5">Activity</text>
<text class="t" x="299.90" y="290.90" font-size="9.5"><tspan font-style="italic">a</tspan><tspan font-size="7" dy="2.4">Ag</tspan></text>
<text class="t" x="299.60" y="357.10" font-size="9.5"><tspan font-style="italic">a</tspan><tspan font-size="7" dy="2.4">Bi</tspan></text>
<path d="M316.90,366.30H320.02M325.74,366.30H327.30" stroke="#1a1a1a" stroke-width="1.3"/>
<text x="329.10" y="367.50" font-size="4.6" fill="#3a3a3a"><tspan font-style="italic">a</tspan><tspan font-size="5.0" dy="1.2">pre., MIVM</tspan></text>
<path d="M316.90,374.10H327.30" stroke="#e83c3c" stroke-width="1.3"/>
<text x="329.10" y="375.30" font-size="4.6" fill="#3a3a3a"><tspan font-style="italic">a</tspan><tspan font-size="5.0" dy="1.2">pre., M-MIVM</tspan></text>
<path d="M316.90,382.20H321.27M324.18,382.20H325.22" stroke="#2ed82e" stroke-width="1.3"/>
<text x="329.10" y="383.40" font-size="4.6" fill="#3a3a3a"><tspan font-style="italic">a</tspan><tspan font-size="5.0" dy="1.2">pre., Wilson</tspan></text>
<path d="M316.90,390.50H319.60M322.93,390.50H323.76M326.26,390.50H327.30" stroke="#2a2ae0" stroke-width="1.3"/>
<text x="329.10" y="391.70" font-size="4.6" fill="#3a3a3a"><tspan font-style="italic">a</tspan><tspan font-size="5.0" dy="1.2">pre., NRTL</tspan></text>
<circle cx="322.10" cy="397.70" r="1.95" fill="#fff" stroke="#6a6a6a" stroke-width="0.6"/>
<text x="329.10" y="398.90" font-size="4.6" fill="#3a3a3a"><tspan font-style="italic">a</tspan><tspan font-size="5.0" dy="1.2">exp. data</tspan></text>
<clipPath id="c140049246937952"><rect x="423.00" y="238.80" width="84.00" height="169.30"/></clipPath>
<g clip-path="url(#c140049246937952)" fill="none" stroke-width="1.15">
<path d="M423.00,356.61 C424.40,356.55 428.60,356.46 431.40,356.27 C434.20,356.07 437.00,355.62 439.80,355.43 C442.60,355.23 445.40,355.15 448.20,355.09 C451.00,355.03 453.80,354.95 456.60,355.09 C459.40,355.23 462.20,355.60 465.00,355.93 C467.80,356.27 470.60,356.53 473.40,357.11 C476.20,357.69 479.00,358.60 481.80,359.38 C484.60,360.17 487.40,361.05 490.20,361.82 C493.00,362.59 495.80,363.41 498.60,364.01 C501.40,364.61 505.60,365.17 507.00,365.40" stroke="#1a1a1a" stroke-dasharray="4,2.4"/>
<path d="M423.00,365.82 C424.40,365.82 428.60,365.82 431.40,365.82 C434.20,365.82 437.00,365.82 439.80,365.82 C442.60,365.82 445.40,365.82 448.20,365.82 C451.00,365.82 453.80,365.97 456.60,365.82 C459.40,365.67 462.20,365.40 465.00,364.89 C467.80,364.39 470.60,363.71 473.40,362.79 C476.20,361.87 479.00,361.48 481.80,359.38 C484.60,357.29 488.10,353.39 490.20,350.21 C492.30,347.03 493.00,344.60 494.40,340.28 C495.80,335.96 497.20,330.95 498.60,324.29 C500.00,317.63 501.40,310.62 502.80,300.31 C504.20,290.00 506.30,268.75 507.00,262.44" stroke="#1a1a1a" stroke-dasharray="4,2.4"/>
<path d="M423.00,388.20 C424.40,385.62 428.60,377.90 431.40,372.72 C434.20,367.54 437.00,360.71 439.80,357.11 C442.60,353.51 445.40,352.45 448.20,351.09 C451.00,349.74 453.80,348.99 456.60,348.99 C459.40,348.99 462.20,350.02 465.00,351.09 C467.80,352.17 470.60,354.05 473.40,355.43 C476.20,356.81 479.00,358.32 481.80,359.38 C484.60,360.45 487.40,361.05 490.20,361.82 C493.00,362.59 495.80,363.41 498.60,364.01 C501.40,364.61 505.60,365.17 507.00,365.40" stroke="#e83c3c"/>
<path d="M423.00,365.82 C424.40,365.95 428.60,366.05 431.40,366.62 C434.20,367.19 437.00,368.50 439.80,369.23 C442.60,369.96 445.40,370.62 448.20,370.99 C451.00,371.37 453.80,371.65 456.60,371.50 C459.40,371.35 462.20,371.06 465.00,370.11 C467.80,369.16 470.60,367.68 473.40,365.82 C476.20,363.95 479.00,362.24 481.80,358.92 C484.60,355.60 488.10,349.87 490.20,345.92 C492.30,341.97 493.00,339.54 494.40,335.23 C495.80,330.93 497.20,326.25 498.60,320.08 C500.00,313.91 501.40,306.62 502.80,298.21 C504.20,289.79 506.30,274.36 507.00,269.59" stroke="#e83c3c"/>
<path d="M423.00,352.02 C424.40,352.17 428.60,352.54 431.40,352.90 C434.20,353.27 437.00,353.84 439.80,354.21 C442.60,354.57 445.40,354.94 448.20,355.09 C451.00,355.24 453.80,354.95 456.60,355.09 C459.40,355.23 462.20,355.60 465.00,355.93 C467.80,356.27 470.60,356.53 473.40,357.11 C476.20,357.69 479.00,358.60 481.80,359.38 C484.60,360.17 487.40,361.05 490.20,361.82 C493.00,362.59 495.80,363.41 498.60,364.01 C501.40,364.61 505.60,365.17 507.00,365.40" stroke="#2ed82e" stroke-dasharray="4.2,1.8,1,1.8"/>
<path d="M423.00,365.82 C424.40,365.82 428.60,365.82 431.40,365.82 C434.20,365.82 437.00,365.82 439.80,365.82 C442.60,365.82 445.40,365.82 448.20,365.82 C451.00,365.82 453.80,365.97 456.60,365.82 C459.40,365.67 462.20,365.40 465.00,364.89 C467.80,364.39 470.60,363.71 473.40,362.79 C476.20,361.87 479.00,361.48 481.80,359.38 C484.60,357.29 488.10,353.39 490.20,350.21 C492.30,347.03 493.00,344.60 494.40,340.28 C495.80,335.96 497.20,330.95 498.60,324.29 C500.00,317.63 501.40,310.62 502.80,300.31 C504.20,290.00 506.30,268.75 507.00,262.44" stroke="#2ed82e" stroke-dasharray="4.2,1.8,1,1.8"/>
<path d="M423.00,362.29 C424.40,361.74 428.60,360.01 431.40,359.00 C434.20,358.00 437.00,356.92 439.80,356.27 C442.60,355.62 445.40,355.29 448.20,355.09 C451.00,354.89 453.80,354.95 456.60,355.09 C459.40,355.23 462.20,355.60 465.00,355.93 C467.80,356.27 470.60,356.53 473.40,357.11 C476.20,357.69 479.00,358.60 481.80,359.38 C484.60,360.17 487.40,361.05 490.20,361.82 C493.00,362.59 495.80,363.41 498.60,364.01 C501.40,364.61 505.60,365.17 507.00,365.40" stroke="#2a2ae0" stroke-dasharray="3.4,1.5,1,1.5,1,1.5"/>
<path d="M423.00,365.82 C424.40,365.82 428.60,365.82 431.40,365.82 C434.20,365.82 437.00,365.82 439.80,365.82 C442.60,365.82 445.40,365.82 448.20,365.82 C451.00,365.82 453.80,365.97 456.60,365.82 C459.40,365.67 462.20,365.40 465.00,364.89 C467.80,364.39 470.60,363.71 473.40,362.79 C476.20,361.87 479.00,361.48 481.80,359.38 C484.60,357.29 488.10,353.39 490.20,350.21 C492.30,347.03 493.00,344.60 494.40,340.28 C495.80,335.96 497.20,330.95 498.60,324.29 C500.00,317.63 501.40,310.62 502.80,300.31 C504.20,290.00 506.30,268.75 507.00,262.44" stroke="#2a2ae0" stroke-dasharray="3.4,1.5,1,1.5,1,1.5"/>
</g>
<rect x="423.00" y="239.30" width="84.00" height="168.30" fill="none" stroke="#333333" stroke-width="1.1"/>
<path d="M423.00,407.60h3.3M423.00,386.56h3.3M423.00,365.53h3.3M423.00,344.49h3.3M423.00,323.45h3.3M423.00,302.41h3.3M423.00,281.38h3.3M423.00,260.34h3.3M423.00,239.30h3.3M423.00,397.08h1.8M423.00,376.04h1.8M423.00,355.01h1.8M423.00,333.97h1.8M423.00,312.93h1.8M423.00,291.89h1.8M423.00,270.86h1.8M423.00,249.82h1.8M423.00,407.60v-3.3M431.40,407.60v-1.8M439.80,407.60v-3.3M448.20,407.60v-1.8M456.60,407.60v-3.3M465.00,407.60v-1.8M473.40,407.60v-3.3M481.80,407.60v-1.8M490.20,407.60v-3.3M498.60,407.60v-1.8M507.00,407.60v-3.3" stroke="#333333" stroke-width="1" fill="none"/>
<circle cx="438.12" cy="361.91" r="1.95" fill="#fff" stroke="#6a6a6a" stroke-width="0.6"/>
<circle cx="439.21" cy="358.41" r="1.95" fill="#fff" stroke="#6a6a6a" stroke-width="0.6"/>
<circle cx="439.21" cy="369.19" r="1.95" fill="#fff" stroke="#6a6a6a" stroke-width="0.6"/>
<circle cx="448.20" cy="348.82" r="1.95" fill="#fff" stroke="#6a6a6a" stroke-width="0.6"/>
<circle cx="456.60" cy="346.51" r="1.95" fill="#fff" stroke="#6a6a6a" stroke-width="0.6"/>
<circle cx="465.00" cy="350.42" r="1.95" fill="#fff" stroke="#6a6a6a" stroke-width="0.6"/>
<circle cx="473.40" cy="355.43" r="1.95" fill="#fff" stroke="#6a6a6a" stroke-width="0.6"/>
<circle cx="481.80" cy="359.38" r="1.95" fill="#fff" stroke="#6a6a6a" stroke-width="0.6"/>
<circle cx="490.20" cy="361.82" r="1.95" fill="#fff" stroke="#6a6a6a" stroke-width="0.6"/>
<circle cx="498.60" cy="364.01" r="1.95" fill="#fff" stroke="#6a6a6a" stroke-width="0.6"/>
<circle cx="507.00" cy="365.40" r="1.95" fill="#fff" stroke="#6a6a6a" stroke-width="0.6"/>
<circle cx="448.20" cy="371.12" r="1.95" fill="#fff" stroke="#6a6a6a" stroke-width="0.6"/>
<circle cx="456.60" cy="371.79" r="1.95" fill="#fff" stroke="#6a6a6a" stroke-width="0.6"/>
<circle cx="465.00" cy="369.90" r="1.95" fill="#fff" stroke="#6a6a6a" stroke-width="0.6"/>
<circle cx="473.40" cy="365.31" r="1.95" fill="#fff" stroke="#6a6a6a" stroke-width="0.6"/>
<circle cx="490.20" cy="350.71" r="1.95" fill="#fff" stroke="#6a6a6a" stroke-width="0.6"/>
<circle cx="498.60" cy="330.39" r="1.95" fill="#fff" stroke="#6a6a6a" stroke-width="0.6"/>
<circle cx="507.00" cy="259.50" r="1.95" fill="#fff" stroke="#6a6a6a" stroke-width="0.6"/>
<text class="t" transform="translate(419.40,410.90) scale(1,1.1)" text-anchor="end" font-size="9.4">0.0</text>
<text class="t" transform="translate(419.40,389.86) scale(1,1.1)" text-anchor="end" font-size="9.4">0.5</text>
<text class="t" transform="translate(419.40,368.83) scale(1,1.1)" text-anchor="end" font-size="9.4">1.0</text>
<text class="t" transform="translate(419.40,347.79) scale(1,1.1)" text-anchor="end" font-size="9.4">1.5</text>
<text class="t" transform="translate(419.40,326.75) scale(1,1.1)" text-anchor="end" font-size="9.4">2.0</text>
<text class="t" transform="translate(419.40,305.71) scale(1,1.1)" text-anchor="end" font-size="9.4">2.5</text>
<text class="t" transform="translate(419.40,284.68) scale(1,1.1)" text-anchor="end" font-size="9.4">3.0</text>
<text class="t" transform="translate(419.40,263.64) scale(1,1.1)" text-anchor="end" font-size="9.4">3.5</text>
<text class="t" transform="translate(419.40,242.60) scale(1,1.1)" text-anchor="end" font-size="9.4">4.0</text>
<text class="t" transform="translate(423.00,419.00) scale(1,1.1)" text-anchor="middle" font-size="9.4">0.0</text>
<text class="t" transform="translate(439.80,419.00) scale(1,1.1)" text-anchor="middle" font-size="9.4">0.2</text>
<text class="t" transform="translate(456.60,419.00) scale(1,1.1)" text-anchor="middle" font-size="9.4">0.4</text>
<text class="t" transform="translate(473.40,419.00) scale(1,1.1)" text-anchor="middle" font-size="9.4">0.6</text>
<text class="t" transform="translate(490.20,419.00) scale(1,1.1)" text-anchor="middle" font-size="9.4">0.8</text>
<text class="t" transform="translate(507.00,419.00) scale(1,1.1)" text-anchor="middle" font-size="9.4">1.0</text>
<text class="t" transform="translate(423.00,428.70) scale(1,1.1)" text-anchor="middle" font-size="9.2">Ag</text>
<text class="t" transform="translate(507.00,428.70) scale(1,1.1)" text-anchor="middle" font-size="9.2">Bi</text>
<text class="t" transform="translate(461.20,428.80) scale(1,1.1)" font-size="9.5"><tspan font-style="italic">x</tspan><tspan font-size="7.4" dx="0.5" dy="2.9">Bi</tspan></text>
<text class="t" transform="translate(405.60,323.70) rotate(-90)" text-anchor="middle" font-size="9.75">Activity coefficient</text>
<text class="t" x="446.80" y="338.50" font-size="9.5"><tspan font-style="italic">γ</tspan><tspan font-size="7" dy="2.4">Ag</tspan></text>
<text class="t" x="446.80" y="383.40" font-size="9.5"><tspan font-style="italic">γ</tspan><tspan font-size="7" dy="2.4">Bi</tspan></text>
<path d="M441.60,270.40H444.72M450.44,270.40H452.00" stroke="#1a1a1a" stroke-width="1.3"/>
<text x="453.80" y="271.60" font-size="4.6" fill="#3a3a3a"><tspan font-style="italic">γ</tspan><tspan font-size="5.0" dy="1.2">pre., MIVM</tspan></text>
<path d="M441.60,277.80H452.00" stroke="#e83c3c" stroke-width="1.3"/>
<text x="453.80" y="279.00" font-size="4.6" fill="#3a3a3a"><tspan font-style="italic">γ</tspan><tspan font-size="5.0" dy="1.2">pre., M-MIVM</tspan></text>
<path d="M441.60,286.00H445.97M448.88,286.00H449.92" stroke="#2ed82e" stroke-width="1.3"/>
<text x="453.80" y="287.20" font-size="4.6" fill="#3a3a3a"><tspan font-style="italic">γ</tspan><tspan font-size="5.0" dy="1.2">pre., Wilson</tspan></text>
<path d="M441.60,294.20H444.30M447.63,294.20H448.46M450.96,294.20H452.00" stroke="#2a2ae0" stroke-width="1.3"/>
<text x="453.80" y="295.40" font-size="4.6" fill="#3a3a3a"><tspan font-style="italic">γ</tspan><tspan font-size="5.0" dy="1.2">pre., NRTL</tspan></text>
<circle cx="446.80" cy="302.40" r="1.95" fill="#fff" stroke="#6a6a6a" stroke-width="0.6"/>
<text x="453.80" y="303.60" font-size="4.6" fill="#3a3a3a"><tspan font-style="italic">γ</tspan><tspan font-size="5.0" dy="1.2">exp. data</tspan></text>
<clipPath id="c140049246938048"><rect x="39.50" y="481.80" width="83.10" height="168.10"/></clipPath>
<g clip-path="url(#c140049246938048)" fill="none" stroke-width="1.15">
<path d="M39.50,482.30 C40.88,485.03 45.04,491.63 47.81,498.68 C50.58,505.72 53.35,515.91 56.12,524.58 C58.89,533.24 61.66,542.51 64.43,550.64 C67.20,558.78 69.97,566.41 72.74,573.37 C75.51,580.33 78.28,586.65 81.05,592.42 C83.82,598.18 86.59,603.36 89.36,607.96 C92.13,612.55 94.90,616.26 97.67,619.99 C100.44,623.72 103.21,627.04 105.98,630.35 C108.75,633.66 111.52,636.70 114.29,639.88 C117.06,643.05 121.21,647.81 122.60,649.40" stroke="#1a1a1a" stroke-dasharray="4,2.4"/>
<path d="M39.50,649.40 C40.88,648.98 45.04,648.70 47.81,646.89 C50.58,645.08 53.35,642.58 56.12,638.54 C58.89,634.50 61.66,628.79 64.43,622.66 C67.20,616.54 69.97,609.30 72.74,601.78 C75.51,594.26 78.28,585.35 81.05,577.55 C83.82,569.75 86.59,561.95 89.36,554.99 C92.13,548.03 94.90,541.90 97.67,535.77 C100.44,529.64 103.21,523.94 105.98,518.23 C108.75,512.52 111.52,507.50 114.29,501.52 C117.06,495.53 121.21,485.50 122.60,482.30" stroke="#1a1a1a" stroke-dasharray="4,2.4"/>
<path d="M39.50,482.30 C40.88,486.48 45.04,498.15 47.81,507.37 C50.58,516.58 53.35,527.58 56.12,537.61 C58.89,547.64 61.66,558.69 64.43,567.52 C67.20,576.35 69.97,584.43 72.74,590.58 C75.51,596.74 78.28,600.41 81.05,604.45 C83.82,608.49 86.59,611.77 89.36,614.81 C92.13,617.85 94.90,619.93 97.67,622.66 C100.44,625.39 103.21,628.32 105.98,631.19 C108.75,634.05 111.52,636.84 114.29,639.88 C117.06,642.91 121.21,647.81 122.60,649.40" stroke="#e83c3c"/>
<path d="M39.50,649.40 C40.88,648.82 45.04,647.90 47.81,645.89 C50.58,643.89 53.35,642.55 56.12,637.37 C58.89,632.19 61.66,622.89 64.43,614.81 C67.20,606.73 69.97,597.26 72.74,588.91 C75.51,580.55 78.28,571.92 81.05,564.68 C83.82,557.44 86.59,551.28 89.36,545.46 C92.13,539.64 94.90,535.24 97.67,529.76 C100.44,524.27 103.21,517.73 105.98,512.55 C108.75,507.37 111.52,503.72 114.29,498.68 C117.06,493.63 121.21,485.03 122.60,482.30" stroke="#e83c3c"/>
<path d="M39.50,482.30 C40.88,486.34 45.04,498.04 47.81,506.53 C50.58,515.02 53.35,524.49 56.12,533.27 C58.89,542.04 61.66,550.76 64.43,559.17 C67.20,567.58 69.97,576.91 72.74,583.73 C75.51,590.55 78.28,595.20 81.05,600.11 C83.82,605.01 86.59,609.38 89.36,613.14 C92.13,616.90 94.90,619.52 97.67,622.66 C100.44,625.81 103.21,629.07 105.98,632.02 C108.75,634.97 111.52,637.48 114.29,640.38 C117.06,643.27 121.21,647.90 122.60,649.40" stroke="#2ed82e" stroke-dasharray="4.2,1.8,1,1.8"/>
<path d="M39.50,649.40 C40.88,648.93 45.04,648.56 47.81,646.56 C50.58,644.55 53.35,641.66 56.12,637.37 C58.89,633.08 61.66,627.18 64.43,620.83 C67.20,614.48 69.97,607.18 72.74,599.27 C75.51,591.36 78.28,581.20 81.05,573.37 C83.82,565.54 86.59,558.72 89.36,552.31 C92.13,545.91 94.90,540.70 97.67,534.94 C100.44,529.17 103.21,523.32 105.98,517.73 C108.75,512.13 111.52,507.25 114.29,501.35 C117.06,495.45 121.21,485.47 122.60,482.30" stroke="#2ed82e" stroke-dasharray="4.2,1.8,1,1.8"/>
<path d="M39.50,482.30 C40.88,485.92 45.04,496.11 47.81,504.02 C50.58,511.93 53.35,521.54 56.12,529.76 C58.89,537.97 61.66,544.80 64.43,553.32 C67.20,561.84 69.97,573.65 72.74,580.89 C75.51,588.13 78.28,591.61 81.05,596.76 C83.82,601.92 86.59,607.57 89.36,611.80 C92.13,616.04 94.90,618.85 97.67,622.16 C100.44,625.48 103.21,628.68 105.98,631.69 C108.75,634.70 111.52,637.26 114.29,640.21 C117.06,643.16 121.21,647.87 122.60,649.40" stroke="#2a2ae0" stroke-dasharray="3.4,1.5,1,1.5,1,1.5"/>
<path d="M39.50,649.40 C40.88,648.93 45.04,648.56 47.81,646.56 C50.58,644.55 53.35,641.66 56.12,637.37 C58.89,633.08 61.66,627.18 64.43,620.83 C67.20,614.48 69.97,607.18 72.74,599.27 C75.51,591.36 78.28,581.20 81.05,573.37 C83.82,565.54 86.59,558.72 89.36,552.31 C92.13,545.91 94.90,540.70 97.67,534.94 C100.44,529.17 103.21,523.32 105.98,517.73 C108.75,512.13 111.52,507.25 114.29,501.35 C117.06,495.45 121.21,485.47 122.60,482.30" stroke="#2a2ae0" stroke-dasharray="3.4,1.5,1,1.5,1,1.5"/>
</g>
<rect x="39.50" y="482.30" width="83.10" height="167.10" fill="none" stroke="#333333" stroke-width="1.1"/>
<path d="M39.50,649.40h3.3M39.50,632.69h3.3M39.50,615.98h3.3M39.50,599.27h3.3M39.50,582.56h3.3M39.50,565.85h3.3M39.50,549.14h3.3M39.50,532.43h3.3M39.50,515.72h3.3M39.50,499.01h3.3M39.50,482.30h3.3M39.50,641.04h1.8M39.50,624.34h1.8M39.50,607.62h1.8M39.50,590.91h1.8M39.50,574.20h1.8M39.50,557.50h1.8M39.50,540.78h1.8M39.50,524.08h1.8M39.50,507.37h1.8M39.50,490.65h1.8M39.50,649.40v-3.3M47.81,649.40v-1.8M56.12,649.40v-3.3M64.43,649.40v-1.8M72.74,649.40v-3.3M81.05,649.40v-1.8M89.36,649.40v-3.3M97.67,649.40v-1.8M105.98,649.40v-3.3M114.29,649.40v-1.8M122.60,649.40v-3.3" stroke="#333333" stroke-width="1" fill="none"/>
<circle cx="39.50" cy="482.30" r="1.95" fill="#fff" stroke="#6a6a6a" stroke-width="0.6"/>
<circle cx="47.81" cy="507.03" r="1.95" fill="#fff" stroke="#6a6a6a" stroke-width="0.6"/>
<circle cx="56.12" cy="540.28" r="1.95" fill="#fff" stroke="#6a6a6a" stroke-width="0.6"/>
<circle cx="64.43" cy="572.03" r="1.95" fill="#fff" stroke="#6a6a6a" stroke-width="0.6"/>
<circle cx="72.74" cy="583.73" r="1.95" fill="#fff" stroke="#6a6a6a" stroke-width="0.6"/>
<circle cx="81.05" cy="605.29" r="1.95" fill="#fff" stroke="#6a6a6a" stroke-width="0.6"/>
<circle cx="89.36" cy="614.48" r="1.95" fill="#fff" stroke="#6a6a6a" stroke-width="0.6"/>
<circle cx="97.67" cy="623.17" r="1.95" fill="#fff" stroke="#6a6a6a" stroke-width="0.6"/>
<circle cx="105.98" cy="631.19" r="1.95" fill="#fff" stroke="#6a6a6a" stroke-width="0.6"/>
<circle cx="114.29" cy="639.88" r="1.95" fill="#fff" stroke="#6a6a6a" stroke-width="0.6"/>
<circle cx="122.60" cy="649.40" r="1.95" fill="#fff" stroke="#6a6a6a" stroke-width="0.6"/>
<circle cx="39.50" cy="649.40" r="1.95" fill="#fff" stroke="#6a6a6a" stroke-width="0.6"/>
<circle cx="47.81" cy="647.06" r="1.95" fill="#fff" stroke="#6a6a6a" stroke-width="0.6"/>
<circle cx="56.12" cy="637.54" r="1.95" fill="#fff" stroke="#6a6a6a" stroke-width="0.6"/>
<circle cx="64.43" cy="615.65" r="1.95" fill="#fff" stroke="#6a6a6a" stroke-width="0.6"/>
<circle cx="72.74" cy="594.93" r="1.95" fill="#fff" stroke="#6a6a6a" stroke-width="0.6"/>
<circle cx="81.05" cy="564.85" r="1.95" fill="#fff" stroke="#6a6a6a" stroke-width="0.6"/>
<circle cx="89.36" cy="546.80" r="1.95" fill="#fff" stroke="#6a6a6a" stroke-width="0.6"/>
<circle cx="97.67" cy="529.26" r="1.95" fill="#fff" stroke="#6a6a6a" stroke-width="0.6"/>
<circle cx="105.98" cy="513.38" r="1.95" fill="#fff" stroke="#6a6a6a" stroke-width="0.6"/>
<circle cx="114.29" cy="499.01" r="1.95" fill="#fff" stroke="#6a6a6a" stroke-width="0.6"/>
<circle cx="122.60" cy="482.30" r="1.95" fill="#fff" stroke="#6a6a6a" stroke-width="0.6"/>
<text class="t" transform="translate(35.90,652.70) scale(1,1.1)" text-anchor="end" font-size="9.4">0.0</text>
<text class="t" transform="translate(35.90,635.99) scale(1,1.1)" text-anchor="end" font-size="9.4">0.1</text>
<text class="t" transform="translate(35.90,619.28) scale(1,1.1)" text-anchor="end" font-size="9.4">0.2</text>
<text class="t" transform="translate(35.90,602.57) scale(1,1.1)" text-anchor="end" font-size="9.4">0.3</text>
<text class="t" transform="translate(35.90,585.86) scale(1,1.1)" text-anchor="end" font-size="9.4">0.4</text>
<text class="t" transform="translate(35.90,569.15) scale(1,1.1)" text-anchor="end" font-size="9.4">0.5</text>
<text class="t" transform="translate(35.90,552.44) scale(1,1.1)" text-anchor="end" font-size="9.4">0.6</text>
<text class="t" transform="translate(35.90,535.73) scale(1,1.1)" text-anchor="end" font-size="9.4">0.7</text>
<text class="t" transform="translate(35.90,519.02) scale(1,1.1)" text-anchor="end" font-size="9.4">0.8</text>
<text class="t" transform="translate(35.90,502.31) scale(1,1.1)" text-anchor="end" font-size="9.4">0.9</text>
<text class="t" transform="translate(35.90,485.60) scale(1,1.1)" text-anchor="end" font-size="9.4">1.0</text>
<text class="t" transform="translate(39.50,660.80) scale(1,1.1)" text-anchor="middle" font-size="9.4">0.0</text>
<text class="t" transform="translate(56.12,660.80) scale(1,1.1)" text-anchor="middle" font-size="9.4">0.2</text>
<text class="t" transform="translate(72.74,660.80) scale(1,1.1)" text-anchor="middle" font-size="9.4">0.4</text>
<text class="t" transform="translate(89.36,660.80) scale(1,1.1)" text-anchor="middle" font-size="9.4">0.6</text>
<text class="t" transform="translate(105.98,660.80) scale(1,1.1)" text-anchor="middle" font-size="9.4">0.8</text>
<text class="t" transform="translate(122.60,660.80) scale(1,1.1)" text-anchor="middle" font-size="9.4">1.0</text>
<text class="t" transform="translate(39.50,670.50) scale(1,1.1)" text-anchor="middle" font-size="9.2">Ag</text>
<text class="t" transform="translate(122.60,670.50) scale(1,1.1)" text-anchor="middle" font-size="9.2">Sb</text>
<text class="t" transform="translate(77.25,670.60) scale(1,1.1)" font-size="9.5"><tspan font-style="italic">x</tspan><tspan font-size="7.4" dx="0.5" dy="2.9">Sb</tspan></text>
<text class="t" transform="translate(20.20,565.85) rotate(-90)" text-anchor="middle" font-size="9.5">Activity</text>
<text class="t" x="49.00" y="567.80" font-size="9.5"><tspan font-style="italic">a</tspan><tspan font-size="7" dy="2.4">Ag</tspan></text>
<text class="t" x="49.80" y="607.00" font-size="9.5"><tspan font-style="italic">a</tspan><tspan font-size="7" dy="2.4">Sb</tspan></text>
<path d="M58.50,487.50H61.59M67.25,487.50H68.80" stroke="#1a1a1a" stroke-width="1.3"/>
<text x="70.60" y="488.70" font-size="4.6" fill="#3a3a3a"><tspan font-style="italic">a</tspan><tspan font-size="5.0" dy="1.2">pre., MIVM</tspan></text>
<path d="M58.50,495.60H68.80" stroke="#e83c3c" stroke-width="1.3"/>
<text x="70.60" y="496.80" font-size="4.6" fill="#3a3a3a"><tspan font-style="italic">a</tspan><tspan font-size="5.0" dy="1.2">pre., M-MIVM</tspan></text>
<path d="M58.50,504.10H62.83M65.71,504.10H66.74" stroke="#2ed82e" stroke-width="1.3"/>
<text x="70.60" y="505.30" font-size="4.6" fill="#3a3a3a"><tspan font-style="italic">a</tspan><tspan font-size="5.0" dy="1.2">pre., Wilson</tspan></text>
<path d="M58.50,512.50H61.18M64.47,512.50H65.30M67.77,512.50H68.80" stroke="#2a2ae0" stroke-width="1.3"/>
<text x="70.60" y="513.70" font-size="4.6" fill="#3a3a3a"><tspan font-style="italic">a</tspan><tspan font-size="5.0" dy="1.2">pre., NRTL</tspan></text>
<circle cx="63.65" cy="519.50" r="1.95" fill="#fff" stroke="#6a6a6a" stroke-width="0.6"/>
<text x="70.60" y="520.70" font-size="4.6" fill="#3a3a3a"><tspan font-style="italic">a</tspan><tspan font-size="5.0" dy="1.2">exp. data</tspan></text>
<clipPath id="c140049246938144"><rect x="163.50" y="481.80" width="83.70" height="168.20"/></clipPath>
<g clip-path="url(#c140049246938144)" fill="none" stroke-width="1.15">
<path d="M163.50,510.17 C164.90,510.70 169.08,511.40 171.87,513.37 C174.66,515.35 177.45,518.69 180.24,522.01 C183.03,525.33 185.82,529.12 188.61,533.30 C191.40,537.48 194.19,542.77 196.98,547.09 C199.77,551.41 202.56,555.61 205.35,559.21 C208.14,562.81 210.93,565.60 213.72,568.69 C216.51,571.78 219.30,574.65 222.09,577.74 C224.88,580.83 227.67,584.34 230.46,587.22 C233.25,590.10 236.04,592.88 238.83,595.02 C241.62,597.16 245.80,599.20 247.20,600.04" stroke="#1a1a1a" stroke-dasharray="4,2.4"/>
<path d="M163.50,619.96 C164.90,617.94 169.08,612.44 171.87,607.84 C174.66,603.24 177.45,598.41 180.24,592.37 C183.03,586.34 185.82,578.16 188.61,571.61 C191.40,565.06 194.19,558.61 196.98,553.08 C199.77,547.55 202.56,542.61 205.35,538.45 C208.14,534.29 210.93,531.16 213.72,528.14 C216.51,525.12 219.30,522.64 222.09,520.34 C224.88,518.04 227.67,515.79 230.46,514.35 C233.25,512.91 236.04,512.40 238.83,511.70 C241.62,511.00 245.80,510.42 247.20,510.17" stroke="#1a1a1a" stroke-dasharray="4,2.4"/>
<path d="M163.50,510.17 C164.90,511.72 169.08,515.37 171.87,519.50 C174.66,523.64 177.45,529.21 180.24,534.97 C183.03,540.73 185.82,548.39 188.61,554.06 C191.40,559.72 194.19,565.46 196.98,568.97 C199.77,572.47 202.56,573.52 205.35,575.10 C208.14,576.68 210.93,577.58 213.72,578.44 C216.51,579.30 219.30,580.25 222.09,580.25 C224.88,580.25 227.67,579.58 230.46,578.44 C233.25,577.30 236.04,575.84 238.83,573.42 C241.62,571.01 245.80,565.53 247.20,563.95" stroke="#e83c3c"/>
<path d="M163.50,641.56 C164.90,639.40 169.08,636.22 171.87,628.60 C174.66,620.98 178.15,604.50 180.24,595.86 C182.33,587.22 183.03,583.15 184.43,576.77 C185.82,570.38 186.52,565.37 188.61,557.54 C190.70,549.71 194.19,537.31 196.98,529.81 C199.77,522.31 202.56,516.41 205.35,512.54 C208.14,508.66 210.93,507.71 213.72,506.54 C216.51,505.38 219.30,505.43 222.09,505.57 C224.88,505.71 227.67,506.80 230.46,507.38 C233.25,507.96 236.04,508.61 238.83,509.05 C241.62,509.49 245.80,509.86 247.20,510.03" stroke="#e83c3c"/>
<path d="M163.50,510.17 C164.90,511.56 169.08,514.67 171.87,518.53 C174.66,522.38 177.45,527.95 180.24,533.30 C183.03,538.64 185.82,545.60 188.61,550.57 C191.40,555.54 194.19,559.89 196.98,563.11 C199.77,566.34 202.56,567.66 205.35,569.94 C208.14,572.22 210.93,574.75 213.72,576.77 C216.51,578.79 219.30,580.32 222.09,582.06 C224.88,583.80 227.67,585.64 230.46,587.22 C233.25,588.80 236.04,589.96 238.83,591.54 C241.62,593.12 245.80,595.83 247.20,596.69" stroke="#2ed82e" stroke-dasharray="4.2,1.8,1,1.8"/>
<path d="M163.50,641.14 C164.90,638.19 169.08,631.57 171.87,623.44 C174.66,615.32 177.45,601.96 180.24,592.37 C183.03,582.78 185.82,574.31 188.61,565.90 C191.40,557.49 194.19,547.95 196.98,541.93 C199.77,535.92 202.56,532.99 205.35,529.81 C208.14,526.63 210.93,525.31 213.72,522.85 C216.51,520.38 219.30,516.92 222.09,515.04 C224.88,513.16 227.67,512.37 230.46,511.56 C233.25,510.75 236.04,510.40 238.83,510.17 C241.62,509.93 245.80,510.17 247.20,510.17" stroke="#2ed82e" stroke-dasharray="4.2,1.8,1,1.8"/>
<path d="M163.50,510.17 C164.90,511.28 169.08,513.58 171.87,516.85 C174.66,520.13 177.45,525.05 180.24,529.81 C183.03,534.57 185.82,540.52 188.61,545.42 C191.40,550.32 194.19,554.87 196.98,559.21 C199.77,563.55 202.56,568.27 205.35,571.47 C208.14,574.68 210.93,576.51 213.72,578.44 C216.51,580.37 219.30,581.41 222.09,583.04 C224.88,584.66 227.67,586.20 230.46,588.19 C233.25,590.19 236.04,593.05 238.83,595.02 C241.62,596.99 245.80,599.20 247.20,600.04" stroke="#2a2ae0" stroke-dasharray="3.4,1.5,1,1.5,1,1.5"/>
<path d="M163.50,635.57 C164.90,633.85 169.08,632.22 171.87,625.26 C174.66,618.29 177.45,603.29 180.24,593.77 C183.03,584.25 185.82,575.05 188.61,568.13 C191.40,561.21 194.19,558.19 196.98,552.25 C199.77,546.30 202.56,537.92 205.35,532.46 C208.14,527.00 210.93,522.68 213.72,519.50 C216.51,516.32 219.30,514.69 222.09,513.37 C224.88,512.05 227.67,512.09 230.46,511.56 C233.25,511.03 236.04,510.40 238.83,510.17 C241.62,509.93 245.80,510.17 247.20,510.17" stroke="#2a2ae0" stroke-dasharray="3.4,1.5,1,1.5,1,1.5"/>
</g>
<rect x="163.50" y="482.30" width="83.70" height="167.20" fill="none" stroke="#333333" stroke-width="1.1"/>
<path d="M163.50,649.50h3.3M163.50,621.63h3.3M163.50,593.77h3.3M163.50,565.90h3.3M163.50,538.03h3.3M163.50,510.17h3.3M163.50,482.30h3.3M163.50,635.57h1.8M163.50,607.70h1.8M163.50,579.83h1.8M163.50,551.97h1.8M163.50,524.10h1.8M163.50,496.23h1.8M163.50,649.50v-3.3M171.87,649.50v-1.8M180.24,649.50v-3.3M188.61,649.50v-1.8M196.98,649.50v-3.3M205.35,649.50v-1.8M213.72,649.50v-3.3M222.09,649.50v-1.8M230.46,649.50v-3.3M238.83,649.50v-1.8M247.20,649.50v-3.3" stroke="#333333" stroke-width="1" fill="none"/>
<circle cx="163.50" cy="642.12" r="1.95" fill="#fff" stroke="#6a6a6a" stroke-width="0.6"/>
<circle cx="171.87" cy="628.60" r="1.95" fill="#fff" stroke="#6a6a6a" stroke-width="0.6"/>
<circle cx="180.24" cy="600.04" r="1.95" fill="#fff" stroke="#6a6a6a" stroke-width="0.6"/>
<circle cx="188.61" cy="556.56" r="1.95" fill="#fff" stroke="#6a6a6a" stroke-width="0.6"/>
<circle cx="196.98" cy="511.70" r="1.95" fill="#fff" stroke="#6a6a6a" stroke-width="0.6"/>
<circle cx="205.35" cy="508.22" r="1.95" fill="#fff" stroke="#6a6a6a" stroke-width="0.6"/>
<circle cx="213.72" cy="506.13" r="1.95" fill="#fff" stroke="#6a6a6a" stroke-width="0.6"/>
<circle cx="222.09" cy="506.13" r="1.95" fill="#fff" stroke="#6a6a6a" stroke-width="0.6"/>
<circle cx="230.46" cy="508.22" r="1.95" fill="#fff" stroke="#6a6a6a" stroke-width="0.6"/>
<circle cx="238.83" cy="509.61" r="1.95" fill="#fff" stroke="#6a6a6a" stroke-width="0.6"/>
<circle cx="247.20" cy="510.03" r="1.95" fill="#fff" stroke="#6a6a6a" stroke-width="0.6"/>
<circle cx="163.50" cy="510.17" r="1.95" fill="#fff" stroke="#6a6a6a" stroke-width="0.6"/>
<circle cx="171.87" cy="516.30" r="1.95" fill="#fff" stroke="#6a6a6a" stroke-width="0.6"/>
<circle cx="180.24" cy="534.97" r="1.95" fill="#fff" stroke="#6a6a6a" stroke-width="0.6"/>
<circle cx="196.98" cy="574.26" r="1.95" fill="#fff" stroke="#6a6a6a" stroke-width="0.6"/>
<circle cx="205.35" cy="576.07" r="1.95" fill="#fff" stroke="#6a6a6a" stroke-width="0.6"/>
<circle cx="213.72" cy="577.19" r="1.95" fill="#fff" stroke="#6a6a6a" stroke-width="0.6"/>
<circle cx="222.09" cy="576.49" r="1.95" fill="#fff" stroke="#6a6a6a" stroke-width="0.6"/>
<circle cx="230.46" cy="574.26" r="1.95" fill="#fff" stroke="#6a6a6a" stroke-width="0.6"/>
<circle cx="238.83" cy="568.97" r="1.95" fill="#fff" stroke="#6a6a6a" stroke-width="0.6"/>
<circle cx="247.20" cy="563.95" r="1.95" fill="#fff" stroke="#6a6a6a" stroke-width="0.6"/>
<text class="t" transform="translate(159.90,652.80) scale(1,1.1)" text-anchor="end" font-size="9.4">0.0</text>
<text class="t" transform="translate(159.90,624.93) scale(1,1.1)" text-anchor="end" font-size="9.4">0.2</text>
<text class="t" transform="translate(159.90,597.07) scale(1,1.1)" text-anchor="end" font-size="9.4">0.4</text>
<text class="t" transform="translate(159.90,569.20) scale(1,1.1)" text-anchor="end" font-size="9.4">0.6</text>
<text class="t" transform="translate(159.90,541.33) scale(1,1.1)" text-anchor="end" font-size="9.4">0.8</text>
<text class="t" transform="translate(159.90,513.47) scale(1,1.1)" text-anchor="end" font-size="9.4">1.0</text>
<text class="t" transform="translate(159.90,485.60) scale(1,1.1)" text-anchor="end" font-size="9.4">1.2</text>
<text class="t" transform="translate(163.50,660.90) scale(1,1.1)" text-anchor="middle" font-size="9.4">0.0</text>
<text class="t" transform="translate(180.24,660.90) scale(1,1.1)" text-anchor="middle" font-size="9.4">0.2</text>
<text class="t" transform="translate(196.98,660.90) scale(1,1.1)" text-anchor="middle" font-size="9.4">0.4</text>
<text class="t" transform="translate(213.72,660.90) scale(1,1.1)" text-anchor="middle" font-size="9.4">0.6</text>
<text class="t" transform="translate(230.46,660.90) scale(1,1.1)" text-anchor="middle" font-size="9.4">0.8</text>
<text class="t" transform="translate(247.20,660.90) scale(1,1.1)" text-anchor="middle" font-size="9.4">1.0</text>
<text class="t" transform="translate(163.50,670.60) scale(1,1.1)" text-anchor="middle" font-size="9.2">Ag</text>
<text class="t" transform="translate(247.20,670.60) scale(1,1.1)" text-anchor="middle" font-size="9.2">Sb</text>
<text class="t" transform="translate(201.55,670.70) scale(1,1.1)" font-size="9.5"><tspan font-style="italic">x</tspan><tspan font-size="7.4" dx="0.5" dy="2.9">Sb</tspan></text>
<text class="t" transform="translate(146.20,565.90) rotate(-90)" text-anchor="middle" font-size="9.75">Activity coefficient</text>
<text class="t" x="169.00" y="544.30" font-size="9.5"><tspan font-style="italic">γ</tspan><tspan font-size="7" dy="2.4">Ag</tspan></text>
<text class="t" x="168.60" y="582.30" font-size="9.5"><tspan font-style="italic">γ</tspan><tspan font-size="7" dy="2.4">Sb</tspan></text>
<path d="M201.50,607.60H204.59M210.25,607.60H211.80" stroke="#1a1a1a" stroke-width="1.3"/>
<text x="213.60" y="608.80" font-size="4.6" fill="#3a3a3a"><tspan font-style="italic">γ</tspan><tspan font-size="5.0" dy="1.2">pre., MIVM</tspan></text>
<path d="M201.50,615.20H211.80" stroke="#e83c3c" stroke-width="1.3"/>
<text x="213.60" y="616.40" font-size="4.6" fill="#3a3a3a"><tspan font-style="italic">γ</tspan><tspan font-size="5.0" dy="1.2">pre., M-MIVM</tspan></text>
<path d="M201.50,623.50H205.83M208.71,623.50H209.74" stroke="#2ed82e" stroke-width="1.3"/>
<text x="213.60" y="624.70" font-size="4.6" fill="#3a3a3a"><tspan font-style="italic">γ</tspan><tspan font-size="5.0" dy="1.2">pre., Wilson</tspan></text>
<path d="M201.50,631.80H204.18M207.47,631.80H208.30M210.77,631.80H211.80" stroke="#2a2ae0" stroke-width="1.3"/>
<text x="213.60" y="633.00" font-size="4.6" fill="#3a3a3a"><tspan font-style="italic">γ</tspan><tspan font-size="5.0" dy="1.2">pre., NRTL</tspan></text>
<circle cx="206.65" cy="639.00" r="1.95" fill="#fff" stroke="#6a6a6a" stroke-width="0.6"/>
<text x="213.60" y="640.20" font-size="4.6" fill="#3a3a3a"><tspan font-style="italic">γ</tspan><tspan font-size="5.0" dy="1.2">exp. data</tspan></text>
<clipPath id="c140049246938240"><rect x="304.20" y="482.60" width="83.20" height="167.70"/></clipPath>
<g clip-path="url(#c140049246938240)" fill="none" stroke-width="1.15">
<path d="M304.20,483.10 C305.59,486.85 309.75,497.55 312.52,505.60 C315.29,513.66 318.07,522.50 320.84,531.44 C323.61,540.39 326.39,549.84 329.16,559.28 C331.93,568.73 334.71,579.29 337.48,588.12 C340.25,596.96 343.03,605.35 345.80,612.29 C348.57,619.24 351.35,625.16 354.12,629.80 C356.89,634.44 359.67,637.41 362.44,640.13 C365.21,642.85 367.99,644.66 370.76,646.13 C373.53,647.61 376.31,648.36 379.08,648.97 C381.85,649.58 386.01,649.66 387.40,649.80" stroke="#1a1a1a" stroke-dasharray="4,2.4"/>
<path d="M304.20,649.80 C305.59,649.66 309.75,649.52 312.52,648.97 C315.29,648.41 318.07,647.72 320.84,646.47 C323.61,645.22 326.39,643.91 329.16,641.46 C331.93,639.02 334.71,636.52 337.48,631.80 C340.25,627.07 343.03,621.52 345.80,613.13 C348.57,604.74 351.35,590.62 354.12,581.45 C356.89,572.28 359.67,566.73 362.44,558.12 C365.21,549.50 367.99,538.94 370.76,529.78 C373.53,520.61 376.31,510.88 379.08,503.10 C381.85,495.32 386.01,486.43 387.40,483.10" stroke="#1a1a1a" stroke-dasharray="4,2.4"/>
<path d="M304.20,483.10 C305.59,486.30 309.75,494.77 312.52,502.27 C315.29,509.77 318.07,519.19 320.84,528.11 C323.61,537.03 326.39,546.20 329.16,555.78 C331.93,565.37 334.71,576.06 337.48,585.62 C340.25,595.18 343.03,605.35 345.80,613.13 C348.57,620.91 351.35,627.43 354.12,632.30 C356.89,637.16 359.67,639.80 362.44,642.30 C365.21,644.80 367.99,646.13 370.76,647.30 C373.53,648.47 376.31,648.88 379.08,649.30 C381.85,649.72 386.01,649.72 387.40,649.80" stroke="#e83c3c"/>
<path d="M304.20,649.80 C305.59,649.69 309.75,649.63 312.52,649.13 C315.29,648.63 318.07,648.05 320.84,646.80 C323.61,645.55 326.39,644.08 329.16,641.63 C331.93,639.19 334.71,637.16 337.48,632.13 C340.25,627.10 343.03,620.46 345.80,611.46 C348.57,602.46 351.35,589.43 354.12,578.12 C356.89,566.81 359.92,553.98 362.44,543.61 C364.96,533.25 367.25,523.41 369.26,515.94 C371.27,508.47 372.77,503.35 374.50,498.77 C376.24,494.19 377.51,491.05 379.66,488.43 C381.81,485.82 386.11,483.99 387.40,483.10" stroke="#e83c3c"/>
<path d="M304.20,483.10 C305.59,486.85 309.75,497.55 312.52,505.60 C315.29,513.66 318.07,522.50 320.84,531.44 C323.61,540.39 326.39,549.84 329.16,559.28 C331.93,568.73 334.71,579.29 337.48,588.12 C340.25,596.96 343.03,605.35 345.80,612.29 C348.57,619.24 351.35,625.16 354.12,629.80 C356.89,634.44 359.67,637.41 362.44,640.13 C365.21,642.85 367.99,644.66 370.76,646.13 C373.53,647.61 376.31,648.36 379.08,648.97 C381.85,649.58 386.01,649.66 387.40,649.80" stroke="#2ed82e" stroke-dasharray="4.2,1.8,1,1.8"/>
<path d="M304.20,649.80 C305.59,649.66 309.75,649.52 312.52,648.97 C315.29,648.41 318.07,647.72 320.84,646.47 C323.61,645.22 326.39,643.91 329.16,641.46 C331.93,639.02 334.71,636.52 337.48,631.80 C340.25,627.07 343.03,621.52 345.80,613.13 C348.57,604.74 351.35,590.62 354.12,581.45 C356.89,572.28 359.67,566.73 362.44,558.12 C365.21,549.50 367.99,538.94 370.76,529.78 C373.53,520.61 376.31,510.88 379.08,503.10 C381.85,495.32 386.01,486.43 387.40,483.10" stroke="#2ed82e" stroke-dasharray="4.2,1.8,1,1.8"/>
<path d="M304.20,483.10 C305.59,486.85 309.75,497.55 312.52,505.60 C315.29,513.66 318.07,522.50 320.84,531.44 C323.61,540.39 326.39,549.84 329.16,559.28 C331.93,568.73 334.71,579.29 337.48,588.12 C340.25,596.96 343.03,605.35 345.80,612.29 C348.57,619.24 351.35,625.16 354.12,629.80 C356.89,634.44 359.67,637.41 362.44,640.13 C365.21,642.85 367.99,644.66 370.76,646.13 C373.53,647.61 376.31,648.36 379.08,648.97 C381.85,649.58 386.01,649.66 387.40,649.80" stroke="#2a2ae0" stroke-dasharray="3.4,1.5,1,1.5,1,1.5"/>
<path d="M304.20,649.80 C305.59,649.66 309.75,649.52 312.52,648.97 C315.29,648.41 318.07,647.72 320.84,646.47 C323.61,645.22 326.39,643.91 329.16,641.46 C331.93,639.02 334.71,636.52 337.48,631.80 C340.25,627.07 343.03,621.52 345.80,613.13 C348.57,604.74 351.35,590.62 354.12,581.45 C356.89,572.28 359.67,566.73 362.44,558.12 C365.21,549.50 367.99,538.94 370.76,529.78 C373.53,520.61 376.31,510.88 379.08,503.10 C381.85,495.32 386.01,486.43 387.40,483.10" stroke="#2a2ae0" stroke-dasharray="3.4,1.5,1,1.5,1,1.5"/>
</g>
<rect x="304.20" y="483.10" width="83.20" height="166.70" fill="none" stroke="#333333" stroke-width="1.1"/>
<path d="M304.20,649.80h3.3M304.20,616.46h3.3M304.20,583.12h3.3M304.20,549.78h3.3M304.20,516.44h3.3M304.20,483.10h3.3M304.20,633.13h1.8M304.20,599.79h1.8M304.20,566.45h1.8M304.20,533.11h1.8M304.20,499.77h1.8M304.20,649.80v-3.3M312.52,649.80v-1.8M320.84,649.80v-3.3M329.16,649.80v-1.8M337.48,649.80v-3.3M345.80,649.80v-1.8M354.12,649.80v-3.3M362.44,649.80v-1.8M370.76,649.80v-3.3M379.08,649.80v-1.8M387.40,649.80v-3.3" stroke="#333333" stroke-width="1" fill="none"/>
<circle cx="304.20" cy="483.10" r="1.95" fill="#fff" stroke="#6a6a6a" stroke-width="0.6"/>
<circle cx="312.52" cy="503.94" r="1.95" fill="#fff" stroke="#6a6a6a" stroke-width="0.6"/>
<circle cx="320.84" cy="530.78" r="1.95" fill="#fff" stroke="#6a6a6a" stroke-width="0.6"/>
<circle cx="329.16" cy="559.62" r="1.95" fill="#fff" stroke="#6a6a6a" stroke-width="0.6"/>
<circle cx="337.48" cy="588.45" r="1.95" fill="#fff" stroke="#6a6a6a" stroke-width="0.6"/>
<circle cx="345.80" cy="613.96" r="1.95" fill="#fff" stroke="#6a6a6a" stroke-width="0.6"/>
<circle cx="354.12" cy="634.13" r="1.95" fill="#fff" stroke="#6a6a6a" stroke-width="0.6"/>
<circle cx="355.45" cy="638.13" r="1.95" fill="#fff" stroke="#6a6a6a" stroke-width="0.6"/>
<circle cx="304.20" cy="649.80" r="1.95" fill="#fff" stroke="#6a6a6a" stroke-width="0.6"/>
<circle cx="312.52" cy="648.97" r="1.95" fill="#fff" stroke="#6a6a6a" stroke-width="0.6"/>
<circle cx="320.84" cy="645.97" r="1.95" fill="#fff" stroke="#6a6a6a" stroke-width="0.6"/>
<circle cx="329.16" cy="641.13" r="1.95" fill="#fff" stroke="#6a6a6a" stroke-width="0.6"/>
<circle cx="337.48" cy="631.80" r="1.95" fill="#fff" stroke="#6a6a6a" stroke-width="0.6"/>
<circle cx="354.12" cy="580.29" r="1.95" fill="#fff" stroke="#6a6a6a" stroke-width="0.6"/>
<circle cx="355.45" cy="567.28" r="1.95" fill="#fff" stroke="#6a6a6a" stroke-width="0.6"/>
<text class="t" transform="translate(300.60,653.10) scale(1,1.1)" text-anchor="end" font-size="9.4">0.0</text>
<text class="t" transform="translate(300.60,619.76) scale(1,1.1)" text-anchor="end" font-size="9.4">0.2</text>
<text class="t" transform="translate(300.60,586.42) scale(1,1.1)" text-anchor="end" font-size="9.4">0.4</text>
<text class="t" transform="translate(300.60,553.08) scale(1,1.1)" text-anchor="end" font-size="9.4">0.6</text>
<text class="t" transform="translate(300.60,519.74) scale(1,1.1)" text-anchor="end" font-size="9.4">0.8</text>
<text class="t" transform="translate(300.60,486.40) scale(1,1.1)" text-anchor="end" font-size="9.4">1.0</text>
<text class="t" transform="translate(304.20,661.20) scale(1,1.1)" text-anchor="middle" font-size="9.4">0.0</text>
<text class="t" transform="translate(320.84,661.20) scale(1,1.1)" text-anchor="middle" font-size="9.4">0.2</text>
<text class="t" transform="translate(337.48,661.20) scale(1,1.1)" text-anchor="middle" font-size="9.4">0.4</text>
<text class="t" transform="translate(354.12,661.20) scale(1,1.1)" text-anchor="middle" font-size="9.4">0.6</text>
<text class="t" transform="translate(370.76,661.20) scale(1,1.1)" text-anchor="middle" font-size="9.4">0.8</text>
<text class="t" transform="translate(387.40,661.20) scale(1,1.1)" text-anchor="middle" font-size="9.4">1.0</text>
<text class="t" transform="translate(304.20,670.90) scale(1,1.1)" text-anchor="middle" font-size="9.2">Pb</text>
<text class="t" transform="translate(387.40,670.90) scale(1,1.1)" text-anchor="middle" font-size="9.2">Pt</text>
<text class="t" transform="translate(342.00,671.00) scale(1,1.1)" font-size="9.5"><tspan font-style="italic">x</tspan><tspan font-size="7.4" dx="0.5" dy="2.9">Pt</tspan></text>
<text class="t" transform="translate(286.30,565.25) rotate(-90)" text-anchor="middle" font-size="9.5">Activity</text>
<text class="t" x="314.70" y="564.00" font-size="9.5"><tspan font-style="italic">a</tspan><tspan font-size="7" dy="2.4">Pb</tspan></text>
<text class="t" x="313.80" y="636.90" font-size="9.5"><tspan font-style="italic">a</tspan><tspan font-size="7" dy="2.4">Pt</tspan></text>
<path d="M325.90,490.10H328.75M333.97,490.10H335.40" stroke="#1a1a1a" stroke-width="1.3"/>
<text x="337.20" y="491.30" font-size="4.6" fill="#3a3a3a"><tspan font-style="italic">a</tspan><tspan font-size="5.0" dy="1.2">pre., MIVM</tspan></text>
<path d="M325.90,498.40H335.40" stroke="#e83c3c" stroke-width="1.3"/>
<text x="337.20" y="499.60" font-size="4.6" fill="#3a3a3a"><tspan font-style="italic">a</tspan><tspan font-size="5.0" dy="1.2">pre., M-MIVM</tspan></text>
<path d="M325.90,506.20H329.89M332.55,506.20H333.50" stroke="#2ed82e" stroke-width="1.3"/>
<text x="337.20" y="507.40" font-size="4.6" fill="#3a3a3a"><tspan font-style="italic">a</tspan><tspan font-size="5.0" dy="1.2">pre., Wilson</tspan></text>
<path d="M325.90,514.30H328.37M331.41,514.30H332.17M334.45,514.30H335.40" stroke="#2a2ae0" stroke-width="1.3"/>
<text x="337.20" y="515.50" font-size="4.6" fill="#3a3a3a"><tspan font-style="italic">a</tspan><tspan font-size="5.0" dy="1.2">pre., NRTL</tspan></text>
<circle cx="330.65" cy="521.50" r="1.95" fill="#fff" stroke="#6a6a6a" stroke-width="0.6"/>
<text x="337.20" y="522.70" font-size="4.6" fill="#3a3a3a"><tspan font-style="italic">a</tspan><tspan font-size="5.0" dy="1.2">exp. data</tspan></text>
<clipPath id="c140049246938336"><rect x="430.30" y="482.90" width="82.90" height="167.40"/></clipPath>
<g clip-path="url(#c140049246938336)" fill="none" stroke-width="1.15">
<path d="M430.30,530.71 C431.68,531.42 435.83,532.41 438.59,534.98 C441.35,537.56 444.12,541.56 446.88,546.16 C449.64,550.75 452.41,556.58 455.17,562.56 C457.93,568.54 460.70,575.79 463.46,582.05 C466.22,588.31 468.99,594.65 471.75,600.12 C474.51,605.59 477.28,610.54 480.04,614.86 C482.80,619.17 485.57,622.56 488.33,626.03 C491.09,629.50 493.86,633.22 496.62,635.66 C499.38,638.09 502.15,639.08 504.91,640.65 C507.67,642.21 511.82,644.31 513.20,645.05" stroke="#1a1a1a" stroke-dasharray="4,2.4"/>
<path d="M430.30,645.88 C431.68,645.01 435.83,642.67 438.59,640.65 C441.35,638.63 444.12,636.77 446.88,633.75 C449.64,630.74 452.41,626.46 455.17,622.58 C457.93,618.70 460.70,615.05 463.46,610.46 C466.22,605.86 468.99,601.19 471.75,595.01 C474.51,588.83 477.28,579.89 480.04,573.37 C482.80,566.86 485.57,560.99 488.33,555.90 C491.09,550.81 493.86,546.30 496.62,542.83 C499.38,539.36 502.15,537.12 504.91,535.10 C507.67,533.08 511.82,531.44 513.20,530.71" stroke="#1a1a1a" stroke-dasharray="4,2.4"/>
<path d="M430.30,530.71 C431.68,531.14 435.83,531.46 438.59,533.32 C441.35,535.18 444.12,537.92 446.88,541.88 C449.64,545.84 452.41,550.49 455.17,557.09 C457.93,563.69 460.70,573.99 463.46,581.46 C466.22,588.93 468.99,595.48 471.75,601.90 C474.51,608.32 477.28,615.07 480.04,619.97 C482.80,624.86 485.84,628.27 488.33,631.26 C490.82,634.25 493.26,636.59 494.96,637.91 C496.66,639.24 497.32,639.64 498.53,639.22 C499.73,638.81 501.19,637.84 502.17,635.42 C503.16,633.00 503.78,629.20 504.41,624.72 C505.05,620.24 505.46,614.86 505.99,608.56 C506.51,602.26 507.01,593.58 507.56,586.92 C508.12,580.27 508.81,573.59 509.30,568.62 C509.80,563.65 510.11,562.58 510.55,557.09 C510.99,551.60 511.51,543.70 511.96,535.70 C512.40,527.69 512.99,513.51 513.20,509.07" stroke="#e83c3c"/>
<path d="M430.30,647.66 C431.68,646.65 435.83,643.60 438.59,641.60 C441.35,639.60 444.12,638.11 446.88,635.66 C449.64,633.20 452.41,630.33 455.17,626.86 C457.93,623.39 460.70,620.03 463.46,614.86 C466.22,609.69 468.99,603.49 471.75,595.84 C474.51,588.19 477.28,577.38 480.04,568.98 C482.80,560.58 485.80,552.26 488.33,545.44 C490.86,538.63 492.92,532.27 495.21,528.09 C497.50,523.91 500.09,521.37 502.09,520.36 C504.09,519.35 505.38,520.27 507.23,522.03 C509.08,523.79 512.21,529.46 513.20,530.94" stroke="#e83c3c"/>
<path d="M430.30,530.71 C431.68,531.42 435.83,532.41 438.59,534.98 C441.35,537.56 444.12,541.56 446.88,546.16 C449.64,550.75 452.41,556.68 455.17,562.56 C457.93,568.44 460.70,575.44 463.46,581.46 C466.22,587.48 468.99,593.56 471.75,598.69 C474.51,603.82 477.28,608.08 480.04,612.24 C482.80,616.40 485.57,619.97 488.33,623.65 C491.09,627.34 493.86,631.58 496.62,634.35 C499.38,637.12 502.15,638.51 504.91,640.29 C507.67,642.07 511.82,644.25 513.20,645.05" stroke="#2ed82e" stroke-dasharray="4.2,1.8,1,1.8"/>
<path d="M430.30,645.88 C431.68,645.01 435.83,642.77 438.59,640.65 C441.35,638.53 444.12,636.39 446.88,633.16 C449.64,629.93 452.41,625.34 455.17,621.27 C457.93,617.21 460.70,613.45 463.46,608.79 C466.22,604.14 468.99,599.25 471.75,593.34 C474.51,587.44 477.28,579.61 480.04,573.37 C482.80,567.13 485.57,560.99 488.33,555.90 C491.09,550.81 493.86,546.30 496.62,542.83 C499.38,539.36 502.15,537.12 504.91,535.10 C507.67,533.08 511.82,531.44 513.20,530.71" stroke="#2ed82e" stroke-dasharray="4.2,1.8,1,1.8"/>
<path d="M430.30,530.71 C431.68,531.42 435.83,532.41 438.59,534.98 C441.35,537.56 444.12,541.56 446.88,546.16 C449.64,550.75 452.41,556.58 455.17,562.56 C457.93,568.54 460.70,575.79 463.46,582.05 C466.22,588.31 468.99,594.65 471.75,600.12 C474.51,605.59 477.28,610.54 480.04,614.86 C482.80,619.17 485.57,622.56 488.33,626.03 C491.09,629.50 493.86,633.22 496.62,635.66 C499.38,638.09 502.15,639.08 504.91,640.65 C507.67,642.21 511.82,644.31 513.20,645.05" stroke="#2a2ae0" stroke-dasharray="3.4,1.5,1,1.5,1,1.5"/>
<path d="M430.30,645.88 C431.68,645.01 435.83,642.67 438.59,640.65 C441.35,638.63 444.12,636.77 446.88,633.75 C449.64,630.74 452.41,626.46 455.17,622.58 C457.93,618.70 460.70,615.05 463.46,610.46 C466.22,605.86 468.99,601.19 471.75,595.01 C474.51,588.83 477.28,579.89 480.04,573.37 C482.80,566.86 485.57,560.99 488.33,555.90 C491.09,550.81 493.86,546.30 496.62,542.83 C499.38,539.36 502.15,537.12 504.91,535.10 C507.67,533.08 511.82,531.44 513.20,530.71" stroke="#2a2ae0" stroke-dasharray="3.4,1.5,1,1.5,1,1.5"/>
</g>
<rect x="430.30" y="483.40" width="82.90" height="166.40" fill="none" stroke="#333333" stroke-width="1.1"/>
<path d="M430.30,649.80h3.3M430.30,626.03h3.3M430.30,602.26h3.3M430.30,578.49h3.3M430.30,554.71h3.3M430.30,530.94h3.3M430.30,507.17h3.3M430.30,483.40h3.3M430.30,637.91h1.8M430.30,614.14h1.8M430.30,590.37h1.8M430.30,566.60h1.8M430.30,542.83h1.8M430.30,519.06h1.8M430.30,495.29h1.8M430.30,649.80v-3.3M438.59,649.80v-1.8M446.88,649.80v-3.3M455.17,649.80v-1.8M463.46,649.80v-3.3M471.75,649.80v-1.8M480.04,649.80v-3.3M488.33,649.80v-1.8M496.62,649.80v-3.3M504.91,649.80v-1.8M513.20,649.80v-3.3" stroke="#333333" stroke-width="1" fill="none"/>
<circle cx="430.30" cy="530.94" r="1.95" fill="#fff" stroke="#6a6a6a" stroke-width="0.6"/>
<circle cx="438.59" cy="533.91" r="1.95" fill="#fff" stroke="#6a6a6a" stroke-width="0.6"/>
<circle cx="446.88" cy="543.42" r="1.95" fill="#fff" stroke="#6a6a6a" stroke-width="0.6"/>
<circle cx="455.17" cy="557.80" r="1.95" fill="#fff" stroke="#6a6a6a" stroke-width="0.6"/>
<circle cx="463.46" cy="576.47" r="1.95" fill="#fff" stroke="#6a6a6a" stroke-width="0.6"/>
<circle cx="471.75" cy="597.50" r="1.95" fill="#fff" stroke="#6a6a6a" stroke-width="0.6"/>
<circle cx="480.04" cy="620.09" r="1.95" fill="#fff" stroke="#6a6a6a" stroke-width="0.6"/>
<circle cx="481.28" cy="627.81" r="1.95" fill="#fff" stroke="#6a6a6a" stroke-width="0.6"/>
<circle cx="430.30" cy="645.05" r="1.95" fill="#fff" stroke="#6a6a6a" stroke-width="0.6"/>
<circle cx="438.59" cy="640.89" r="1.95" fill="#fff" stroke="#6a6a6a" stroke-width="0.6"/>
<circle cx="446.88" cy="635.54" r="1.95" fill="#fff" stroke="#6a6a6a" stroke-width="0.6"/>
<circle cx="455.17" cy="627.93" r="1.95" fill="#fff" stroke="#6a6a6a" stroke-width="0.6"/>
<circle cx="463.46" cy="616.52" r="1.95" fill="#fff" stroke="#6a6a6a" stroke-width="0.6"/>
<circle cx="471.75" cy="599.17" r="1.95" fill="#fff" stroke="#6a6a6a" stroke-width="0.6"/>
<circle cx="480.04" cy="566.72" r="1.95" fill="#fff" stroke="#6a6a6a" stroke-width="0.6"/>
<circle cx="481.28" cy="554.71" r="1.95" fill="#fff" stroke="#6a6a6a" stroke-width="0.6"/>
<text class="t" transform="translate(426.70,653.10) scale(1,1.1)" text-anchor="end" font-size="9.4">0.0</text>
<text class="t" transform="translate(426.70,629.33) scale(1,1.1)" text-anchor="end" font-size="9.4">0.2</text>
<text class="t" transform="translate(426.70,605.56) scale(1,1.1)" text-anchor="end" font-size="9.4">0.4</text>
<text class="t" transform="translate(426.70,581.79) scale(1,1.1)" text-anchor="end" font-size="9.4">0.6</text>
<text class="t" transform="translate(426.70,558.01) scale(1,1.1)" text-anchor="end" font-size="9.4">0.8</text>
<text class="t" transform="translate(426.70,534.24) scale(1,1.1)" text-anchor="end" font-size="9.4">1.0</text>
<text class="t" transform="translate(426.70,510.47) scale(1,1.1)" text-anchor="end" font-size="9.4">1.2</text>
<text class="t" transform="translate(426.70,486.70) scale(1,1.1)" text-anchor="end" font-size="9.4">1.4</text>
<text class="t" transform="translate(430.30,661.20) scale(1,1.1)" text-anchor="middle" font-size="9.4">0.0</text>
<text class="t" transform="translate(446.88,661.20) scale(1,1.1)" text-anchor="middle" font-size="9.4">0.2</text>
<text class="t" transform="translate(463.46,661.20) scale(1,1.1)" text-anchor="middle" font-size="9.4">0.4</text>
<text class="t" transform="translate(480.04,661.20) scale(1,1.1)" text-anchor="middle" font-size="9.4">0.6</text>
<text class="t" transform="translate(496.62,661.20) scale(1,1.1)" text-anchor="middle" font-size="9.4">0.8</text>
<text class="t" transform="translate(513.20,661.20) scale(1,1.1)" text-anchor="middle" font-size="9.4">1.0</text>
<text class="t" transform="translate(430.30,670.90) scale(1,1.1)" text-anchor="middle" font-size="9.2">Pb</text>
<text class="t" transform="translate(513.20,670.90) scale(1,1.1)" text-anchor="middle" font-size="9.2">Pt</text>
<text class="t" transform="translate(467.95,671.00) scale(1,1.1)" font-size="9.5"><tspan font-style="italic">x</tspan><tspan font-size="7.4" dx="0.5" dy="2.9">Pt</tspan></text>
<text class="t" transform="translate(413.60,566.85) rotate(-90)" text-anchor="middle" font-size="9.75">Activity coefficient</text>
<text class="t" x="444.10" y="572.80" font-size="9.5"><tspan font-style="italic">γ</tspan><tspan font-size="7" dy="2.4">Pb</tspan></text>
<text class="t" x="444.10" y="617.80" font-size="9.5"><tspan font-style="italic">γ</tspan><tspan font-size="7" dy="2.4">Pt</tspan></text>
<path d="M450.20,492.70H453.05M458.27,492.70H459.70" stroke="#1a1a1a" stroke-width="1.3"/>
<text x="461.50" y="493.90" font-size="4.6" fill="#3a3a3a"><tspan font-style="italic">γ</tspan><tspan font-size="5.0" dy="1.2">pre., MIVM</tspan></text>
<path d="M450.20,500.60H459.70" stroke="#e83c3c" stroke-width="1.3"/>
<text x="461.50" y="501.80" font-size="4.6" fill="#3a3a3a"><tspan font-style="italic">γ</tspan><tspan font-size="5.0" dy="1.2">pre., M-MIVM</tspan></text>
<path d="M450.20,509.10H454.19M456.85,509.10H457.80" stroke="#2ed82e" stroke-width="1.3"/>
<text x="461.50" y="510.30" font-size="4.6" fill="#3a3a3a"><tspan font-style="italic">γ</tspan><tspan font-size="5.0" dy="1.2">pre., Wilson</tspan></text>
<path d="M450.20,517.40H452.67M455.71,517.40H456.47M458.75,517.40H459.70" stroke="#2a2ae0" stroke-width="1.3"/>
<text x="461.50" y="518.60" font-size="4.6" fill="#3a3a3a"><tspan font-style="italic">γ</tspan><tspan font-size="5.0" dy="1.2">pre., NRTL</tspan></text>
<circle cx="454.95" cy="524.60" r="1.95" fill="#fff" stroke="#6a6a6a" stroke-width="0.6"/>
<text x="461.50" y="525.80" font-size="4.6" fill="#3a3a3a"><tspan font-style="italic">γ</tspan><tspan font-size="5.0" dy="1.2">exp. data</tspan></text>
<clipPath id="c140049246938432"><rect x="39.50" y="715.00" width="82.50" height="166.70"/></clipPath>
<g clip-path="url(#c140049246938432)" fill="none" stroke-width="1.15">
<path d="M39.50,715.50 C40.88,717.79 45.00,725.36 47.75,729.25 C50.50,733.15 53.25,736.32 56.00,738.86 C58.75,741.40 61.50,742.48 64.25,744.50 C67.00,746.51 69.75,749.05 72.50,750.96 C75.25,752.87 78.00,753.91 80.75,755.93 C83.50,757.95 86.25,760.43 89.00,763.06 C91.75,765.68 94.50,767.81 97.25,771.67 C100.00,775.54 103.44,781.12 105.50,786.25 C107.56,791.39 108.25,796.75 109.62,802.49 C111.00,808.24 112.38,813.04 113.75,820.72 C115.12,828.40 116.50,838.48 117.88,848.56 C119.25,858.64 121.31,875.76 122.00,881.20" stroke="#1a1a1a" stroke-dasharray="4,2.4"/>
<path d="M39.50,881.20 C39.91,878.71 41.29,871.53 41.98,866.29 C42.66,861.04 42.87,855.52 43.62,849.72 C44.38,843.92 45.59,837.29 46.51,831.49 C47.43,825.69 47.96,820.44 49.15,814.92 C50.35,809.40 51.97,803.87 53.69,798.35 C55.41,792.83 57.71,785.78 59.47,781.78 C61.23,777.78 62.08,777.09 64.25,774.32 C66.42,771.56 69.75,767.70 72.50,765.21 C75.25,762.72 78.00,761.12 80.75,759.41 C83.50,757.70 86.25,756.73 89.00,754.94 C91.75,753.14 94.50,751.04 97.25,748.64 C100.00,746.24 102.75,743.61 105.50,740.52 C108.25,737.43 111.00,734.25 113.75,730.08 C116.50,725.91 120.62,717.93 122.00,715.50" stroke="#1a1a1a" stroke-dasharray="4,2.4"/>
<path d="M39.50,715.50 C40.88,717.79 45.00,725.36 47.75,729.25 C50.50,733.15 53.25,736.41 56.00,738.86 C58.75,741.32 61.50,742.56 64.25,744.00 C67.00,745.44 69.75,746.32 72.50,747.48 C75.25,748.64 78.00,749.39 80.75,750.96 C83.50,752.53 86.25,754.19 89.00,756.92 C91.75,759.66 94.50,762.75 97.25,767.36 C100.00,771.98 103.44,778.85 105.50,784.60 C107.56,790.34 108.25,795.92 109.62,801.83 C111.00,807.74 112.38,812.35 113.75,820.06 C115.12,827.76 116.50,837.87 117.88,848.06 C119.25,858.25 121.31,875.68 122.00,881.20" stroke="#e83c3c"/>
<path d="M39.50,881.20 C39.84,878.69 40.94,871.53 41.56,866.12 C42.18,860.71 42.52,854.61 43.21,848.72 C43.90,842.84 44.89,836.46 45.69,830.83 C46.48,825.19 46.98,820.33 48.00,814.92 C49.02,809.51 50.39,803.87 51.79,798.35 C53.19,792.83 54.34,786.61 56.41,781.78 C58.49,776.95 61.57,772.53 64.25,769.35 C66.93,766.18 69.75,764.57 72.50,762.72 C75.25,760.87 78.00,759.66 80.75,758.25 C83.50,756.84 86.25,755.88 89.00,754.27 C91.75,752.67 94.50,750.93 97.25,748.64 C100.00,746.35 102.75,743.61 105.50,740.52 C108.25,737.43 111.00,734.25 113.75,730.08 C116.50,725.91 120.62,717.93 122.00,715.50" stroke="#e83c3c"/>
<path d="M39.50,715.50 C40.88,717.79 45.00,725.36 47.75,729.25 C50.50,733.15 53.25,736.13 56.00,738.86 C58.75,741.60 61.50,743.50 64.25,745.66 C67.00,747.81 69.75,749.63 72.50,751.79 C75.25,753.94 78.00,755.99 80.75,758.58 C83.50,761.18 86.25,764.19 89.00,767.36 C91.75,770.54 94.50,773.61 97.25,777.64 C100.00,781.67 103.44,787.14 105.50,791.56 C107.56,795.97 108.25,799.15 109.62,804.15 C111.00,809.15 112.38,814.09 113.75,821.55 C115.12,829.00 116.50,838.95 117.88,848.89 C119.25,858.83 121.31,875.81 122.00,881.20" stroke="#2ed82e" stroke-dasharray="4.2,1.8,1,1.8"/>
<path d="M39.50,881.20 C39.98,878.71 41.63,871.53 42.39,866.29 C43.14,861.04 43.28,855.52 44.04,849.72 C44.79,843.92 45.95,837.29 46.92,831.49 C47.90,825.69 48.44,820.44 49.89,814.92 C51.35,809.40 53.43,803.87 55.67,798.35 C57.91,792.83 60.54,786.89 63.34,781.78 C66.15,776.67 69.60,771.15 72.50,767.70 C75.40,764.24 78.00,763.06 80.75,761.07 C83.50,759.08 86.25,757.70 89.00,755.77 C91.75,753.83 94.50,751.95 97.25,749.47 C100.00,746.98 102.75,744.08 105.50,740.85 C108.25,737.62 111.00,734.31 113.75,730.08 C116.50,725.86 120.62,717.93 122.00,715.50" stroke="#2ed82e" stroke-dasharray="4.2,1.8,1,1.8"/>
<path d="M39.50,715.50 C40.88,717.79 45.00,725.36 47.75,729.25 C50.50,733.15 53.25,736.32 56.00,738.86 C58.75,741.40 61.50,742.48 64.25,744.50 C67.00,746.51 69.75,749.05 72.50,750.96 C75.25,752.87 78.00,753.91 80.75,755.93 C83.50,757.95 86.25,760.43 89.00,763.06 C91.75,765.68 94.50,767.81 97.25,771.67 C100.00,775.54 103.44,781.12 105.50,786.25 C107.56,791.39 108.25,796.75 109.62,802.49 C111.00,808.24 112.38,813.04 113.75,820.72 C115.12,828.40 116.50,838.48 117.88,848.56 C119.25,858.64 121.31,875.76 122.00,881.20" stroke="#2a2ae0" stroke-dasharray="3.4,1.5,1,1.5,1,1.5"/>
<path d="M39.50,881.20 C39.91,878.71 41.29,871.53 41.98,866.29 C42.66,861.04 42.87,855.52 43.62,849.72 C44.38,843.92 45.59,837.29 46.51,831.49 C47.43,825.69 47.96,820.44 49.15,814.92 C50.35,809.40 51.97,803.87 53.69,798.35 C55.41,792.83 57.71,785.78 59.47,781.78 C61.23,777.78 62.08,777.09 64.25,774.32 C66.42,771.56 69.75,767.70 72.50,765.21 C75.25,762.72 78.00,761.12 80.75,759.41 C83.50,757.70 86.25,756.73 89.00,754.94 C91.75,753.14 94.50,751.04 97.25,748.64 C100.00,746.24 102.75,743.61 105.50,740.52 C108.25,737.43 111.00,734.25 113.75,730.08 C116.50,725.91 120.62,717.93 122.00,715.50" stroke="#2a2ae0" stroke-dasharray="3.4,1.5,1,1.5,1,1.5"/>
</g>
<rect x="39.50" y="715.50" width="82.50" height="165.70" fill="none" stroke="#333333" stroke-width="1.1"/>
<path d="M39.50,881.20h3.3M39.50,864.63h3.3M39.50,848.06h3.3M39.50,831.49h3.3M39.50,814.92h3.3M39.50,798.35h3.3M39.50,781.78h3.3M39.50,765.21h3.3M39.50,748.64h3.3M39.50,732.07h3.3M39.50,715.50h3.3M39.50,872.92h1.8M39.50,856.35h1.8M39.50,839.78h1.8M39.50,823.21h1.8M39.50,806.63h1.8M39.50,790.07h1.8M39.50,773.50h1.8M39.50,756.92h1.8M39.50,740.36h1.8M39.50,723.78h1.8M39.50,881.20v-3.3M47.75,881.20v-1.8M56.00,881.20v-3.3M64.25,881.20v-1.8M72.50,881.20v-3.3M80.75,881.20v-1.8M89.00,881.20v-3.3M97.25,881.20v-1.8M105.50,881.20v-3.3M113.75,881.20v-1.8M122.00,881.20v-3.3" stroke="#333333" stroke-width="1" fill="none"/>
<circle cx="39.50" cy="715.50" r="1.95" fill="#fff" stroke="#6a6a6a" stroke-width="0.6"/>
<circle cx="47.75" cy="730.41" r="1.95" fill="#fff" stroke="#6a6a6a" stroke-width="0.6"/>
<circle cx="56.00" cy="740.36" r="1.95" fill="#fff" stroke="#6a6a6a" stroke-width="0.6"/>
<circle cx="64.25" cy="743.67" r="1.95" fill="#fff" stroke="#6a6a6a" stroke-width="0.6"/>
<circle cx="72.50" cy="745.82" r="1.95" fill="#fff" stroke="#6a6a6a" stroke-width="0.6"/>
<circle cx="80.75" cy="750.13" r="1.95" fill="#fff" stroke="#6a6a6a" stroke-width="0.6"/>
<circle cx="89.00" cy="754.94" r="1.95" fill="#fff" stroke="#6a6a6a" stroke-width="0.6"/>
<circle cx="97.25" cy="767.03" r="1.95" fill="#fff" stroke="#6a6a6a" stroke-width="0.6"/>
<circle cx="105.50" cy="785.92" r="1.95" fill="#fff" stroke="#6a6a6a" stroke-width="0.6"/>
<circle cx="113.75" cy="820.06" r="1.95" fill="#fff" stroke="#6a6a6a" stroke-width="0.6"/>
<circle cx="122.00" cy="881.20" r="1.95" fill="#fff" stroke="#6a6a6a" stroke-width="0.6"/>
<circle cx="39.50" cy="881.20" r="1.95" fill="#fff" stroke="#6a6a6a" stroke-width="0.6"/>
<circle cx="47.75" cy="812.27" r="1.95" fill="#fff" stroke="#6a6a6a" stroke-width="0.6"/>
<circle cx="56.00" cy="776.81" r="1.95" fill="#fff" stroke="#6a6a6a" stroke-width="0.6"/>
<circle cx="64.25" cy="768.52" r="1.95" fill="#fff" stroke="#6a6a6a" stroke-width="0.6"/>
<circle cx="72.50" cy="763.55" r="1.95" fill="#fff" stroke="#6a6a6a" stroke-width="0.6"/>
<circle cx="80.75" cy="758.58" r="1.95" fill="#fff" stroke="#6a6a6a" stroke-width="0.6"/>
<circle cx="89.00" cy="754.27" r="1.95" fill="#fff" stroke="#6a6a6a" stroke-width="0.6"/>
<circle cx="97.25" cy="748.64" r="1.95" fill="#fff" stroke="#6a6a6a" stroke-width="0.6"/>
<circle cx="105.50" cy="741.02" r="1.95" fill="#fff" stroke="#6a6a6a" stroke-width="0.6"/>
<circle cx="113.75" cy="730.41" r="1.95" fill="#fff" stroke="#6a6a6a" stroke-width="0.6"/>
<circle cx="122.00" cy="715.50" r="1.95" fill="#fff" stroke="#6a6a6a" stroke-width="0.6"/>
<text class="t" transform="translate(35.90,884.50) scale(1,1.1)" text-anchor="end" font-size="9.4">0.0</text>
<text class="t" transform="translate(35.90,867.93) scale(1,1.1)" text-anchor="end" font-size="9.4">0.1</text>
<text class="t" transform="translate(35.90,851.36) scale(1,1.1)" text-anchor="end" font-size="9.4">0.2</text>
<text class="t" transform="translate(35.90,834.79) scale(1,1.1)" text-anchor="end" font-size="9.4">0.3</text>
<text class="t" transform="translate(35.90,818.22) scale(1,1.1)" text-anchor="end" font-size="9.4">0.4</text>
<text class="t" transform="translate(35.90,801.65) scale(1,1.1)" text-anchor="end" font-size="9.4">0.5</text>
<text class="t" transform="translate(35.90,785.08) scale(1,1.1)" text-anchor="end" font-size="9.4">0.6</text>
<text class="t" transform="translate(35.90,768.51) scale(1,1.1)" text-anchor="end" font-size="9.4">0.7</text>
<text class="t" transform="translate(35.90,751.94) scale(1,1.1)" text-anchor="end" font-size="9.4">0.8</text>
<text class="t" transform="translate(35.90,735.37) scale(1,1.1)" text-anchor="end" font-size="9.4">0.9</text>
<text class="t" transform="translate(35.90,718.80) scale(1,1.1)" text-anchor="end" font-size="9.4">1.0</text>
<text class="t" transform="translate(39.50,892.60) scale(1,1.1)" text-anchor="middle" font-size="9.4">0.0</text>
<text class="t" transform="translate(56.00,892.60) scale(1,1.1)" text-anchor="middle" font-size="9.4">0.2</text>
<text class="t" transform="translate(72.50,892.60) scale(1,1.1)" text-anchor="middle" font-size="9.4">0.4</text>
<text class="t" transform="translate(89.00,892.60) scale(1,1.1)" text-anchor="middle" font-size="9.4">0.6</text>
<text class="t" transform="translate(105.50,892.60) scale(1,1.1)" text-anchor="middle" font-size="9.4">0.8</text>
<text class="t" transform="translate(122.00,892.60) scale(1,1.1)" text-anchor="middle" font-size="9.4">1.0</text>
<text class="t" transform="translate(39.50,902.30) scale(1,1.1)" text-anchor="middle" font-size="9.2">Cu</text>
<text class="t" transform="translate(122.00,902.30) scale(1,1.1)" text-anchor="middle" font-size="9.2">Pb</text>
<text class="t" transform="translate(76.95,902.40) scale(1,1.1)" font-size="9.5"><tspan font-style="italic">x</tspan><tspan font-size="7.4" dx="0.5" dy="2.9">Pb</tspan></text>
<text class="t" transform="translate(21.20,796.65) rotate(-90)" text-anchor="middle" font-size="9.5">Activity</text>
<text class="t" x="56.40" y="735.80" font-size="9.5"><tspan font-style="italic">a</tspan><tspan font-size="7" dy="2.4">Cu</tspan></text>
<text class="t" x="52.90" y="815.10" font-size="9.5"><tspan font-style="italic">a</tspan><tspan font-size="7" dy="2.4">Pb</tspan></text>
<path d="M61.90,833.60H64.75M69.98,833.60H71.40" stroke="#1a1a1a" stroke-width="1.3"/>
<text x="73.20" y="834.80" font-size="4.6" fill="#3a3a3a"><tspan font-style="italic">a</tspan><tspan font-size="5.0" dy="1.2">pre., MIVM</tspan></text>
<path d="M61.90,841.90H71.40" stroke="#e83c3c" stroke-width="1.3"/>
<text x="73.20" y="843.10" font-size="4.6" fill="#3a3a3a"><tspan font-style="italic">a</tspan><tspan font-size="5.0" dy="1.2">pre., M-MIVM</tspan></text>
<path d="M61.90,850.30H65.89M68.55,850.30H69.50" stroke="#2ed82e" stroke-width="1.3"/>
<text x="73.20" y="851.50" font-size="4.6" fill="#3a3a3a"><tspan font-style="italic">a</tspan><tspan font-size="5.0" dy="1.2">pre., Wilson</tspan></text>
<path d="M61.90,858.30H64.37M67.41,858.30H68.17M70.45,858.30H71.40" stroke="#2a2ae0" stroke-width="1.3"/>
<text x="73.20" y="859.50" font-size="4.6" fill="#3a3a3a"><tspan font-style="italic">a</tspan><tspan font-size="5.0" dy="1.2">pre., NRTL</tspan></text>
<circle cx="66.65" cy="865.80" r="1.95" fill="#fff" stroke="#6a6a6a" stroke-width="0.6"/>
<text x="73.20" y="867.00" font-size="4.6" fill="#3a3a3a"><tspan font-style="italic">a</tspan><tspan font-size="5.0" dy="1.2">exp. data</tspan></text>
<clipPath id="c140049246938528"><rect x="158.10" y="716.60" width="82.40" height="165.90"/></clipPath>
<g clip-path="url(#c140049246938528)" fill="none" stroke-width="1.15">
<path d="M158.10,736.34 C159.47,741.61 163.59,758.10 166.34,767.94 C169.09,777.79 171.83,786.95 174.58,795.43 C177.33,803.90 180.07,812.47 182.82,818.79 C185.57,825.11 188.31,829.55 191.06,833.35 C193.81,837.16 196.55,839.31 199.30,841.60 C202.05,843.89 204.79,845.54 207.54,847.10 C210.29,848.65 213.03,849.94 215.78,850.94 C218.53,851.95 221.27,852.55 224.02,853.14 C226.77,853.74 229.51,854.29 232.26,854.52 C235.01,854.75 239.13,854.52 240.50,854.52" stroke="#1a1a1a" stroke-dasharray="4,2.4"/>
<path d="M158.10,854.52 C159.47,854.47 163.59,854.52 166.34,854.24 C169.09,853.97 171.83,853.65 174.58,852.87 C177.33,852.09 180.07,850.90 182.82,849.57 C185.57,848.24 188.31,846.64 191.06,844.90 C193.81,843.16 196.55,841.55 199.30,839.13 C202.05,836.70 204.79,833.72 207.54,830.33 C210.29,826.94 213.03,823.32 215.78,818.79 C218.53,814.25 221.27,809.54 224.02,803.12 C226.77,796.71 229.51,789.70 232.26,780.31 C235.01,770.92 239.13,752.37 240.50,746.78" stroke="#1a1a1a" stroke-dasharray="4,2.4"/>
<path d="M158.10,736.06 C159.47,741.29 163.59,757.59 166.34,767.39 C169.09,777.20 171.83,786.50 174.58,794.88 C177.33,803.26 180.07,811.37 182.82,817.69 C185.57,824.01 188.31,828.87 191.06,832.80 C193.81,836.74 196.55,838.99 199.30,841.32 C202.05,843.66 204.79,845.22 207.54,846.82 C210.29,848.42 213.03,849.89 215.78,850.94 C218.53,852.00 221.27,852.59 224.02,853.14 C226.77,853.69 229.51,854.01 232.26,854.24 C235.01,854.47 239.13,854.47 240.50,854.52" stroke="#e83c3c"/>
<path d="M158.10,854.52 C159.47,854.47 163.59,854.52 166.34,854.24 C169.09,853.97 171.83,853.69 174.58,852.87 C177.33,852.04 180.07,850.67 182.82,849.29 C185.57,847.92 188.31,846.36 191.06,844.62 C193.81,842.88 196.55,841.28 199.30,838.85 C202.05,836.42 204.79,833.40 207.54,830.06 C210.29,826.71 213.03,823.23 215.78,818.79 C218.53,814.35 221.27,809.72 224.02,803.40 C226.77,797.08 229.51,790.11 232.26,780.86 C235.01,771.61 239.13,753.38 240.50,747.88" stroke="#e83c3c"/>
<path d="M158.10,729.19 C159.47,735.97 163.59,758.33 166.34,769.87 C169.09,781.41 171.83,789.89 174.58,798.45 C177.33,807.02 180.07,815.22 182.82,821.26 C185.57,827.31 188.31,831.25 191.06,834.73 C193.81,838.21 196.55,840.04 199.30,842.15 C202.05,844.26 204.79,845.91 207.54,847.37 C210.29,848.84 213.03,849.98 215.78,850.94 C218.53,851.91 221.27,852.55 224.02,853.14 C226.77,853.74 229.51,854.29 232.26,854.52 C235.01,854.75 239.13,854.52 240.50,854.52" stroke="#2ed82e" stroke-dasharray="4.2,1.8,1,1.8"/>
<path d="M158.10,854.52 C159.47,854.47 163.59,854.52 166.34,854.24 C169.09,853.97 171.83,853.60 174.58,852.87 C177.33,852.13 180.07,851.08 182.82,849.84 C185.57,848.61 188.31,847.14 191.06,845.45 C193.81,843.75 196.55,842.06 199.30,839.68 C202.05,837.29 204.79,834.50 207.54,831.16 C210.29,827.81 213.03,824.24 215.78,819.61 C218.53,814.99 221.27,810.04 224.02,803.40 C226.77,796.76 229.51,789.47 232.26,779.76 C235.01,770.05 239.13,750.90 240.50,745.13" stroke="#2ed82e" stroke-dasharray="4.2,1.8,1,1.8"/>
<path d="M158.10,736.34 C159.47,741.61 163.59,758.10 166.34,767.94 C169.09,777.79 171.83,786.95 174.58,795.43 C177.33,803.90 180.07,812.47 182.82,818.79 C185.57,825.11 188.31,829.55 191.06,833.35 C193.81,837.16 196.55,839.31 199.30,841.60 C202.05,843.89 204.79,845.54 207.54,847.10 C210.29,848.65 213.03,849.94 215.78,850.94 C218.53,851.95 221.27,852.55 224.02,853.14 C226.77,853.74 229.51,854.29 232.26,854.52 C235.01,854.75 239.13,854.52 240.50,854.52" stroke="#2a2ae0" stroke-dasharray="3.4,1.5,1,1.5,1,1.5"/>
<path d="M158.10,854.52 C159.47,854.47 163.59,854.52 166.34,854.24 C169.09,853.97 171.83,853.65 174.58,852.87 C177.33,852.09 180.07,850.90 182.82,849.57 C185.57,848.24 188.31,846.64 191.06,844.90 C193.81,843.16 196.55,841.55 199.30,839.13 C202.05,836.70 204.79,833.72 207.54,830.33 C210.29,826.94 213.03,823.32 215.78,818.79 C218.53,814.25 221.27,809.54 224.02,803.12 C226.77,796.71 229.51,789.70 232.26,780.31 C235.01,770.92 239.13,752.37 240.50,746.78" stroke="#2a2ae0" stroke-dasharray="3.4,1.5,1,1.5,1,1.5"/>
</g>
<rect x="158.10" y="717.10" width="82.40" height="164.90" fill="none" stroke="#333333" stroke-width="1.1"/>
<path d="M158.10,882.00h3.3M158.10,854.52h3.3M158.10,827.03h3.3M158.10,799.55h3.3M158.10,772.07h3.3M158.10,744.58h3.3M158.10,717.10h3.3M158.10,868.26h1.8M158.10,840.77h1.8M158.10,813.29h1.8M158.10,785.81h1.8M158.10,758.33h1.8M158.10,730.84h1.8M158.10,882.00v-3.3M166.34,882.00v-1.8M174.58,882.00v-3.3M182.82,882.00v-1.8M191.06,882.00v-3.3M199.30,882.00v-1.8M207.54,882.00v-3.3M215.78,882.00v-1.8M224.02,882.00v-3.3M232.26,882.00v-1.8M240.50,882.00v-3.3" stroke="#333333" stroke-width="1" fill="none"/>
<circle cx="158.10" cy="736.34" r="1.95" fill="#fff" stroke="#6a6a6a" stroke-width="0.6"/>
<circle cx="166.34" cy="767.39" r="1.95" fill="#fff" stroke="#6a6a6a" stroke-width="0.6"/>
<circle cx="174.58" cy="795.43" r="1.95" fill="#fff" stroke="#6a6a6a" stroke-width="0.6"/>
<circle cx="182.82" cy="819.61" r="1.95" fill="#fff" stroke="#6a6a6a" stroke-width="0.6"/>
<circle cx="191.06" cy="833.35" r="1.95" fill="#fff" stroke="#6a6a6a" stroke-width="0.6"/>
<circle cx="199.30" cy="841.60" r="1.95" fill="#fff" stroke="#6a6a6a" stroke-width="0.6"/>
<circle cx="207.54" cy="847.10" r="1.95" fill="#fff" stroke="#6a6a6a" stroke-width="0.6"/>
<circle cx="215.78" cy="850.94" r="1.95" fill="#fff" stroke="#6a6a6a" stroke-width="0.6"/>
<circle cx="224.02" cy="853.14" r="1.95" fill="#fff" stroke="#6a6a6a" stroke-width="0.6"/>
<circle cx="232.26" cy="854.52" r="1.95" fill="#fff" stroke="#6a6a6a" stroke-width="0.6"/>
<circle cx="240.50" cy="854.52" r="1.95" fill="#fff" stroke="#6a6a6a" stroke-width="0.6"/>
<circle cx="158.10" cy="854.52" r="1.95" fill="#fff" stroke="#6a6a6a" stroke-width="0.6"/>
<circle cx="166.34" cy="854.52" r="1.95" fill="#fff" stroke="#6a6a6a" stroke-width="0.6"/>
<circle cx="174.58" cy="852.87" r="1.95" fill="#fff" stroke="#6a6a6a" stroke-width="0.6"/>
<circle cx="182.82" cy="849.29" r="1.95" fill="#fff" stroke="#6a6a6a" stroke-width="0.6"/>
<circle cx="191.06" cy="844.62" r="1.95" fill="#fff" stroke="#6a6a6a" stroke-width="0.6"/>
<circle cx="199.30" cy="839.40" r="1.95" fill="#fff" stroke="#6a6a6a" stroke-width="0.6"/>
<circle cx="207.54" cy="830.33" r="1.95" fill="#fff" stroke="#6a6a6a" stroke-width="0.6"/>
<circle cx="215.78" cy="818.79" r="1.95" fill="#fff" stroke="#6a6a6a" stroke-width="0.6"/>
<circle cx="224.02" cy="803.12" r="1.95" fill="#fff" stroke="#6a6a6a" stroke-width="0.6"/>
<circle cx="232.26" cy="780.04" r="1.95" fill="#fff" stroke="#6a6a6a" stroke-width="0.6"/>
<circle cx="240.50" cy="747.88" r="1.95" fill="#fff" stroke="#6a6a6a" stroke-width="0.6"/>
<text class="t" transform="translate(154.50,885.30) scale(1,1.1)" text-anchor="end" font-size="9.4">0</text>
<text class="t" transform="translate(154.50,857.82) scale(1,1.1)" text-anchor="end" font-size="9.4">1</text>
<text class="t" transform="translate(154.50,830.33) scale(1,1.1)" text-anchor="end" font-size="9.4">2</text>
<text class="t" transform="translate(154.50,802.85) scale(1,1.1)" text-anchor="end" font-size="9.4">3</text>
<text class="t" transform="translate(154.50,775.37) scale(1,1.1)" text-anchor="end" font-size="9.4">4</text>
<text class="t" transform="translate(154.50,747.88) scale(1,1.1)" text-anchor="end" font-size="9.4">5</text>
<text class="t" transform="translate(154.50,720.40) scale(1,1.1)" text-anchor="end" font-size="9.4">6</text>
<text class="t" transform="translate(158.10,893.40) scale(1,1.1)" text-anchor="middle" font-size="9.4">0.0</text>
<text class="t" transform="translate(174.58,893.40) scale(1,1.1)" text-anchor="middle" font-size="9.4">0.2</text>
<text class="t" transform="translate(191.06,893.40) scale(1,1.1)" text-anchor="middle" font-size="9.4">0.4</text>
<text class="t" transform="translate(207.54,893.40) scale(1,1.1)" text-anchor="middle" font-size="9.4">0.6</text>
<text class="t" transform="translate(224.02,893.40) scale(1,1.1)" text-anchor="middle" font-size="9.4">0.8</text>
<text class="t" transform="translate(240.50,893.40) scale(1,1.1)" text-anchor="middle" font-size="9.4">1.0</text>
<text class="t" transform="translate(158.10,903.10) scale(1,1.1)" text-anchor="middle" font-size="9.2">Cu</text>
<text class="t" transform="translate(240.50,903.10) scale(1,1.1)" text-anchor="middle" font-size="9.2">Pb</text>
<text class="t" transform="translate(195.50,903.20) scale(1,1.1)" font-size="9.5"><tspan font-style="italic">x</tspan><tspan font-size="7.4" dx="0.5" dy="2.9">Pb</tspan></text>
<text class="t" transform="translate(147.90,798.95) rotate(-90)" text-anchor="middle" font-size="9.75">Activity coefficient</text>
<text class="t" x="173.70" y="789.20" font-size="9.5"><tspan font-style="italic">γ</tspan><tspan font-size="7" dy="2.4">Cu</tspan></text>
<text class="t" x="174.30" y="863.00" font-size="9.5"><tspan font-style="italic">γ</tspan><tspan font-size="7" dy="2.4">Pb</tspan></text>
<path d="M183.50,730.10H186.62M192.34,730.10H193.90" stroke="#1a1a1a" stroke-width="1.3"/>
<text x="195.70" y="731.30" font-size="4.6" fill="#3a3a3a"><tspan font-style="italic">γ</tspan><tspan font-size="5.0" dy="1.2">pre., MIVM</tspan></text>
<path d="M183.50,738.30H193.90" stroke="#e83c3c" stroke-width="1.3"/>
<text x="195.70" y="739.50" font-size="4.6" fill="#3a3a3a"><tspan font-style="italic">γ</tspan><tspan font-size="5.0" dy="1.2">pre., M-MIVM</tspan></text>
<path d="M183.50,747.00H187.87M190.78,747.00H191.82" stroke="#2ed82e" stroke-width="1.3"/>
<text x="195.70" y="748.20" font-size="4.6" fill="#3a3a3a"><tspan font-style="italic">γ</tspan><tspan font-size="5.0" dy="1.2">pre., Wilson</tspan></text>
<path d="M183.50,755.20H186.20M189.53,755.20H190.36M192.86,755.20H193.90" stroke="#2a2ae0" stroke-width="1.3"/>
<text x="195.70" y="756.40" font-size="4.6" fill="#3a3a3a"><tspan font-style="italic">γ</tspan><tspan font-size="5.0" dy="1.2">pre., NRTL</tspan></text>
<circle cx="188.70" cy="762.40" r="1.95" fill="#fff" stroke="#6a6a6a" stroke-width="0.6"/>
<text x="195.70" y="763.60" font-size="4.6" fill="#3a3a3a"><tspan font-style="italic">γ</tspan><tspan font-size="5.0" dy="1.2">exp. data</tspan></text>
<text class="t" x="124.70" y="217.70" text-anchor="middle" font-size="11.5">(a)</text>
<text class="t" x="389.50" y="217.70" text-anchor="middle" font-size="11.5">(b)</text>
<text class="t" x="124.60" y="450.70" text-anchor="middle" font-size="11.5">(c)</text>
<text class="t" x="390.50" y="450.70" text-anchor="middle" font-size="11.5">(d)</text>
<text class="t" x="132.60" y="692.30" text-anchor="middle" font-size="11.5">(e)</text>
<text class="t" x="398.40" y="692.30" text-anchor="middle" font-size="11.5">(f)</text>
<text class="t" x="129.70" y="923.20" text-anchor="middle" font-size="11.5">(g)</text>
</svg>
</body></html>
